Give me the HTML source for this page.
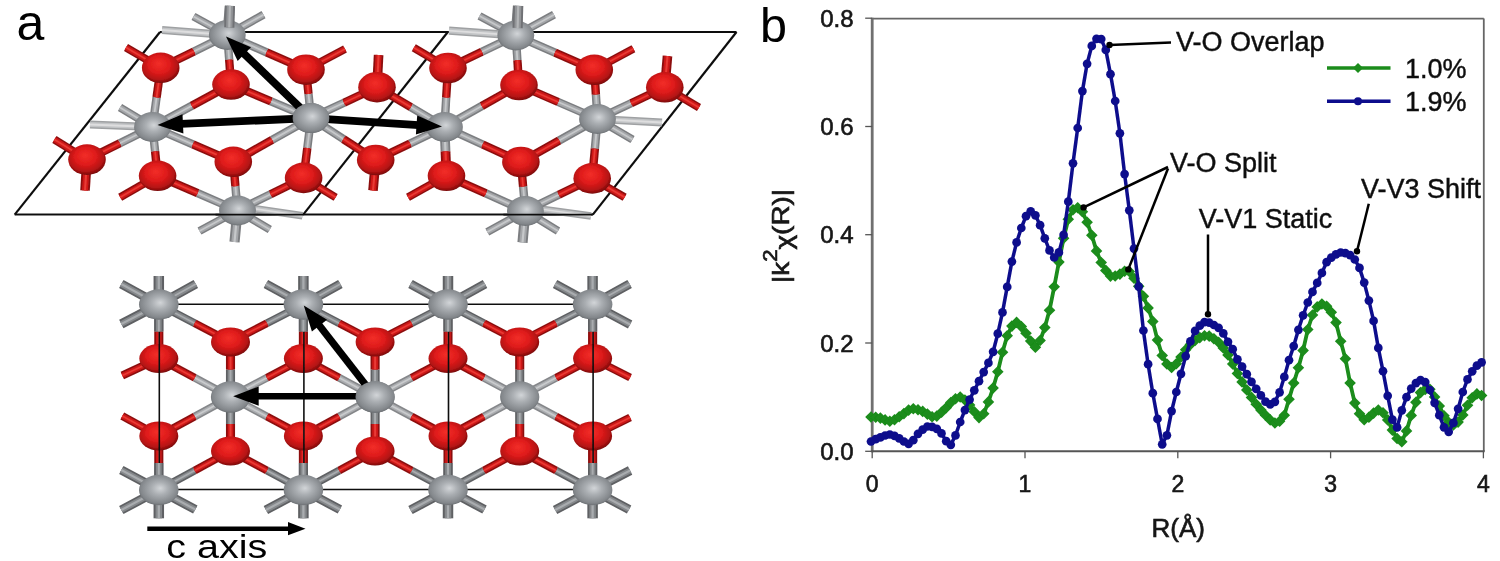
<!DOCTYPE html>
<html lang="en"><head><meta charset="utf-8"><title>Figure</title>
<style>html,body{margin:0;padding:0;background:#fff}svg{display:block}text{font-family:'Liberation Sans', Arial, Helvetica, sans-serif}</style>
</head><body>
<svg width="1500" height="561" viewBox="0 0 1500 561">
<defs>
<radialGradient id="gV" cx="0.5" cy="0.47" r="0.6" fx="0.54" fy="0.44"><stop offset="0" stop-color="#d2d5d8"/><stop offset="0.35" stop-color="#aaaeb2"/><stop offset="0.78" stop-color="#83878b"/><stop offset="1" stop-color="#565a5e"/></radialGradient>
<radialGradient id="gO" cx="0.47" cy="0.43" r="0.62" fx="0.45" fy="0.36"><stop offset="0" stop-color="#f22e28"/><stop offset="0.45" stop-color="#df1b1b"/><stop offset="0.76" stop-color="#b41313"/><stop offset="1" stop-color="#5e0808"/></radialGradient>
<filter id="soft" x="-2%" y="-2%" width="104%" height="104%"><feGaussianBlur stdDeviation="0.55"/></filter>
<filter id="soft2" x="-2%" y="-2%" width="104%" height="104%"><feGaussianBlur stdDeviation="0.4"/></filter>
</defs>
<rect width="1500" height="561" fill="#fff"/>
<g id="panelA" filter="url(#soft)">
<g id="topStruct">
<line x1="160.0" y1="32.0" x2="736.5" y2="32.0" stroke="#111" stroke-width="2.0"/>
<line x1="14.7" y1="214.6" x2="592.8" y2="214.6" stroke="#111" stroke-width="2.0"/>
<line x1="160.0" y1="32.0" x2="14.7" y2="214.6" stroke="#111" stroke-width="2.2"/>
<line x1="736.5" y1="32.0" x2="592.8" y2="214.6" stroke="#111" stroke-width="2.2"/>
<line x1="447.8" y1="32.0" x2="303.2" y2="214.6" stroke="#111" stroke-width="2.2"/>
<line x1="227.3" y1="35.0" x2="230.0" y2="6.0" stroke="#7c7e81" stroke-width="10.2"/>
<line x1="227.3" y1="35.0" x2="230.0" y2="6.0" stroke="#a4a6a9" stroke-width="6.3"/>
<line x1="227.3" y1="35.0" x2="230.0" y2="6.0" stroke="#c6c8ca" stroke-width="2.2"/>
<line x1="227.3" y1="35.0" x2="193.5" y2="16.5" stroke="#7c7e81" stroke-width="8.2"/>
<line x1="227.3" y1="35.0" x2="193.5" y2="16.5" stroke="#a4a6a9" stroke-width="5.1"/>
<line x1="227.3" y1="35.0" x2="193.5" y2="16.5" stroke="#c6c8ca" stroke-width="1.8"/>
<line x1="227.3" y1="35.0" x2="263.5" y2="14.7" stroke="#7c7e81" stroke-width="8.2"/>
<line x1="227.3" y1="35.0" x2="263.5" y2="14.7" stroke="#a4a6a9" stroke-width="5.1"/>
<line x1="227.3" y1="35.0" x2="263.5" y2="14.7" stroke="#c6c8ca" stroke-width="1.8"/>
<line x1="227.3" y1="35.0" x2="162.0" y2="30.0" stroke="#9fa1a3" stroke-width="8.2"/>
<line x1="227.3" y1="35.0" x2="162.0" y2="30.0" stroke="#c2c4c6" stroke-width="5.1"/>
<line x1="227.3" y1="35.0" x2="162.0" y2="30.0" stroke="#dededf" stroke-width="1.8"/>
<line x1="152.5" y1="127.0" x2="120.0" y2="107.5" stroke="#7c7e81" stroke-width="8.2"/>
<line x1="152.5" y1="127.0" x2="120.0" y2="107.5" stroke="#a4a6a9" stroke-width="5.1"/>
<line x1="152.5" y1="127.0" x2="120.0" y2="107.5" stroke="#c6c8ca" stroke-width="1.8"/>
<line x1="152.5" y1="127.0" x2="90.0" y2="124.5" stroke="#9fa1a3" stroke-width="8.2"/>
<line x1="152.5" y1="127.0" x2="90.0" y2="124.5" stroke="#c2c4c6" stroke-width="5.1"/>
<line x1="152.5" y1="127.0" x2="90.0" y2="124.5" stroke="#dededf" stroke-width="1.8"/>
<line x1="237.5" y1="210.5" x2="199.5" y2="231.0" stroke="#7c7e81" stroke-width="8.2"/>
<line x1="237.5" y1="210.5" x2="199.5" y2="231.0" stroke="#a4a6a9" stroke-width="5.1"/>
<line x1="237.5" y1="210.5" x2="199.5" y2="231.0" stroke="#c6c8ca" stroke-width="1.8"/>
<line x1="237.5" y1="210.5" x2="234.5" y2="242.0" stroke="#7c7e81" stroke-width="10.2"/>
<line x1="237.5" y1="210.5" x2="234.5" y2="242.0" stroke="#a4a6a9" stroke-width="6.3"/>
<line x1="237.5" y1="210.5" x2="234.5" y2="242.0" stroke="#c6c8ca" stroke-width="2.2"/>
<line x1="237.5" y1="210.5" x2="269.8" y2="229.5" stroke="#7c7e81" stroke-width="8.2"/>
<line x1="237.5" y1="210.5" x2="269.8" y2="229.5" stroke="#a4a6a9" stroke-width="5.1"/>
<line x1="237.5" y1="210.5" x2="269.8" y2="229.5" stroke="#c6c8ca" stroke-width="1.8"/>
<line x1="515.8" y1="35.5" x2="518.0" y2="6.0" stroke="#7c7e81" stroke-width="10.2"/>
<line x1="515.8" y1="35.5" x2="518.0" y2="6.0" stroke="#a4a6a9" stroke-width="6.3"/>
<line x1="515.8" y1="35.5" x2="518.0" y2="6.0" stroke="#c6c8ca" stroke-width="2.2"/>
<line x1="515.8" y1="35.5" x2="479.5" y2="16.0" stroke="#7c7e81" stroke-width="8.2"/>
<line x1="515.8" y1="35.5" x2="479.5" y2="16.0" stroke="#a4a6a9" stroke-width="5.1"/>
<line x1="515.8" y1="35.5" x2="479.5" y2="16.0" stroke="#c6c8ca" stroke-width="1.8"/>
<line x1="515.8" y1="35.5" x2="554.0" y2="14.7" stroke="#7c7e81" stroke-width="8.2"/>
<line x1="515.8" y1="35.5" x2="554.0" y2="14.7" stroke="#a4a6a9" stroke-width="5.1"/>
<line x1="515.8" y1="35.5" x2="554.0" y2="14.7" stroke="#c6c8ca" stroke-width="1.8"/>
<line x1="515.8" y1="35.5" x2="449.0" y2="30.6" stroke="#9fa1a3" stroke-width="8.2"/>
<line x1="515.8" y1="35.5" x2="449.0" y2="30.6" stroke="#c2c4c6" stroke-width="5.1"/>
<line x1="515.8" y1="35.5" x2="449.0" y2="30.6" stroke="#dededf" stroke-width="1.8"/>
<line x1="597.5" y1="119.0" x2="662.0" y2="122.5" stroke="#9fa1a3" stroke-width="8.2"/>
<line x1="597.5" y1="119.0" x2="662.0" y2="122.5" stroke="#c2c4c6" stroke-width="5.1"/>
<line x1="597.5" y1="119.0" x2="662.0" y2="122.5" stroke="#dededf" stroke-width="1.8"/>
<line x1="597.5" y1="119.0" x2="632.5" y2="139.5" stroke="#7c7e81" stroke-width="8.2"/>
<line x1="597.5" y1="119.0" x2="632.5" y2="139.5" stroke="#a4a6a9" stroke-width="5.1"/>
<line x1="597.5" y1="119.0" x2="632.5" y2="139.5" stroke="#c6c8ca" stroke-width="1.8"/>
<line x1="525.4" y1="211.0" x2="487.3" y2="232.0" stroke="#7c7e81" stroke-width="8.2"/>
<line x1="525.4" y1="211.0" x2="487.3" y2="232.0" stroke="#a4a6a9" stroke-width="5.1"/>
<line x1="525.4" y1="211.0" x2="487.3" y2="232.0" stroke="#c6c8ca" stroke-width="1.8"/>
<line x1="525.4" y1="211.0" x2="522.5" y2="242.5" stroke="#7c7e81" stroke-width="10.2"/>
<line x1="525.4" y1="211.0" x2="522.5" y2="242.5" stroke="#a4a6a9" stroke-width="6.3"/>
<line x1="525.4" y1="211.0" x2="522.5" y2="242.5" stroke="#c6c8ca" stroke-width="2.2"/>
<line x1="525.4" y1="211.0" x2="558.0" y2="231.0" stroke="#7c7e81" stroke-width="8.2"/>
<line x1="525.4" y1="211.0" x2="558.0" y2="231.0" stroke="#a4a6a9" stroke-width="5.1"/>
<line x1="525.4" y1="211.0" x2="558.0" y2="231.0" stroke="#c6c8ca" stroke-width="1.8"/>
<line x1="237.5" y1="206.2" x2="302.5" y2="215.8" stroke="#9fa1a3" stroke-width="7.6"/>
<line x1="237.5" y1="206.2" x2="302.5" y2="215.8" stroke="#c2c4c6" stroke-width="4.7"/>
<line x1="237.5" y1="206.2" x2="302.5" y2="215.8" stroke="#dededf" stroke-width="1.7"/>
<line x1="525.4" y1="207.0" x2="591.0" y2="216.0" stroke="#9fa1a3" stroke-width="7.6"/>
<line x1="525.4" y1="207.0" x2="591.0" y2="216.0" stroke="#c2c4c6" stroke-width="4.7"/>
<line x1="525.4" y1="207.0" x2="591.0" y2="216.0" stroke="#dededf" stroke-width="1.7"/>
<line x1="160.7" y1="67.8" x2="126.0" y2="47.5" stroke="#8c0f0f" stroke-width="8.0"/>
<line x1="160.7" y1="67.8" x2="126.0" y2="47.5" stroke="#cf1919" stroke-width="5.0"/>
<line x1="160.7" y1="67.8" x2="126.0" y2="47.5" stroke="#e93a34" stroke-width="1.8"/>
<line x1="306.0" y1="69.7" x2="345.0" y2="49.0" stroke="#8c0f0f" stroke-width="8.0"/>
<line x1="306.0" y1="69.7" x2="345.0" y2="49.0" stroke="#cf1919" stroke-width="5.0"/>
<line x1="306.0" y1="69.7" x2="345.0" y2="49.0" stroke="#e93a34" stroke-width="1.8"/>
<line x1="377.0" y1="87.2" x2="378.6" y2="55.0" stroke="#8c0f0f" stroke-width="9.6"/>
<line x1="377.0" y1="87.2" x2="378.6" y2="55.0" stroke="#cf1919" stroke-width="6.0"/>
<line x1="377.0" y1="87.2" x2="378.6" y2="55.0" stroke="#e93a34" stroke-width="2.1"/>
<line x1="87.0" y1="159.6" x2="54.4" y2="139.5" stroke="#8c0f0f" stroke-width="8.0"/>
<line x1="87.0" y1="159.6" x2="54.4" y2="139.5" stroke="#cf1919" stroke-width="5.0"/>
<line x1="87.0" y1="159.6" x2="54.4" y2="139.5" stroke="#e93a34" stroke-width="1.8"/>
<line x1="87.0" y1="159.6" x2="85.0" y2="190.5" stroke="#8c0f0f" stroke-width="9.6"/>
<line x1="87.0" y1="159.6" x2="85.0" y2="190.5" stroke="#cf1919" stroke-width="6.0"/>
<line x1="87.0" y1="159.6" x2="85.0" y2="190.5" stroke="#e93a34" stroke-width="2.1"/>
<line x1="157.6" y1="175.8" x2="120.2" y2="197.3" stroke="#8c0f0f" stroke-width="8.0"/>
<line x1="157.6" y1="175.8" x2="120.2" y2="197.3" stroke="#cf1919" stroke-width="5.0"/>
<line x1="157.6" y1="175.8" x2="120.2" y2="197.3" stroke="#e93a34" stroke-width="1.8"/>
<line x1="303.6" y1="177.9" x2="335.6" y2="197.3" stroke="#8c0f0f" stroke-width="8.0"/>
<line x1="303.6" y1="177.9" x2="335.6" y2="197.3" stroke="#cf1919" stroke-width="5.0"/>
<line x1="303.6" y1="177.9" x2="335.6" y2="197.3" stroke="#e93a34" stroke-width="1.8"/>
<line x1="375.7" y1="160.0" x2="373.0" y2="190.5" stroke="#8c0f0f" stroke-width="9.6"/>
<line x1="375.7" y1="160.0" x2="373.0" y2="190.5" stroke="#cf1919" stroke-width="6.0"/>
<line x1="375.7" y1="160.0" x2="373.0" y2="190.5" stroke="#e93a34" stroke-width="2.1"/>
<line x1="448.0" y1="68.0" x2="413.8" y2="47.8" stroke="#8c0f0f" stroke-width="8.0"/>
<line x1="448.0" y1="68.0" x2="413.8" y2="47.8" stroke="#cf1919" stroke-width="5.0"/>
<line x1="448.0" y1="68.0" x2="413.8" y2="47.8" stroke="#e93a34" stroke-width="1.8"/>
<line x1="594.3" y1="69.8" x2="633.4" y2="48.8" stroke="#8c0f0f" stroke-width="8.0"/>
<line x1="594.3" y1="69.8" x2="633.4" y2="48.8" stroke="#cf1919" stroke-width="5.0"/>
<line x1="594.3" y1="69.8" x2="633.4" y2="48.8" stroke="#e93a34" stroke-width="1.8"/>
<line x1="664.8" y1="87.3" x2="667.5" y2="56.0" stroke="#8c0f0f" stroke-width="9.6"/>
<line x1="664.8" y1="87.3" x2="667.5" y2="56.0" stroke="#cf1919" stroke-width="6.0"/>
<line x1="664.8" y1="87.3" x2="667.5" y2="56.0" stroke="#e93a34" stroke-width="2.1"/>
<line x1="664.8" y1="87.3" x2="699.0" y2="107.5" stroke="#8c0f0f" stroke-width="8.0"/>
<line x1="664.8" y1="87.3" x2="699.0" y2="107.5" stroke="#cf1919" stroke-width="5.0"/>
<line x1="664.8" y1="87.3" x2="699.0" y2="107.5" stroke="#e93a34" stroke-width="1.8"/>
<line x1="446.5" y1="175.8" x2="408.0" y2="197.3" stroke="#8c0f0f" stroke-width="8.0"/>
<line x1="446.5" y1="175.8" x2="408.0" y2="197.3" stroke="#cf1919" stroke-width="5.0"/>
<line x1="446.5" y1="175.8" x2="408.0" y2="197.3" stroke="#e93a34" stroke-width="1.8"/>
<line x1="592.2" y1="178.4" x2="624.6" y2="197.3" stroke="#8c0f0f" stroke-width="8.0"/>
<line x1="592.2" y1="178.4" x2="624.6" y2="197.3" stroke="#cf1919" stroke-width="5.0"/>
<line x1="592.2" y1="178.4" x2="624.6" y2="197.3" stroke="#e93a34" stroke-width="1.8"/>
<line x1="227.3" y1="35.0" x2="194.0" y2="51.4" stroke="#7c7e81" stroke-width="8.4"/>
<line x1="227.3" y1="35.0" x2="194.0" y2="51.4" stroke="#a4a6a9" stroke-width="5.2"/>
<line x1="227.3" y1="35.0" x2="194.0" y2="51.4" stroke="#c6c8ca" stroke-width="1.8"/>
<line x1="194.0" y1="51.4" x2="160.7" y2="67.8" stroke="#8c0f0f" stroke-width="8.4"/>
<line x1="194.0" y1="51.4" x2="160.7" y2="67.8" stroke="#cf1919" stroke-width="5.2"/>
<line x1="194.0" y1="51.4" x2="160.7" y2="67.8" stroke="#e93a34" stroke-width="1.8"/>
<line x1="227.3" y1="35.0" x2="229.2" y2="59.8" stroke="#7c7e81" stroke-width="8.4"/>
<line x1="227.3" y1="35.0" x2="229.2" y2="59.8" stroke="#a4a6a9" stroke-width="5.2"/>
<line x1="227.3" y1="35.0" x2="229.2" y2="59.8" stroke="#c6c8ca" stroke-width="1.8"/>
<line x1="229.2" y1="59.8" x2="231.0" y2="84.5" stroke="#8c0f0f" stroke-width="8.4"/>
<line x1="229.2" y1="59.8" x2="231.0" y2="84.5" stroke="#cf1919" stroke-width="5.2"/>
<line x1="229.2" y1="59.8" x2="231.0" y2="84.5" stroke="#e93a34" stroke-width="1.8"/>
<line x1="227.3" y1="35.0" x2="266.6" y2="52.4" stroke="#7c7e81" stroke-width="8.4"/>
<line x1="227.3" y1="35.0" x2="266.6" y2="52.4" stroke="#a4a6a9" stroke-width="5.2"/>
<line x1="227.3" y1="35.0" x2="266.6" y2="52.4" stroke="#c6c8ca" stroke-width="1.8"/>
<line x1="266.6" y1="52.4" x2="306.0" y2="69.7" stroke="#8c0f0f" stroke-width="8.4"/>
<line x1="266.6" y1="52.4" x2="306.0" y2="69.7" stroke="#cf1919" stroke-width="5.2"/>
<line x1="266.6" y1="52.4" x2="306.0" y2="69.7" stroke="#e93a34" stroke-width="1.8"/>
<line x1="152.5" y1="127.0" x2="156.6" y2="97.4" stroke="#7c7e81" stroke-width="8.4"/>
<line x1="152.5" y1="127.0" x2="156.6" y2="97.4" stroke="#a4a6a9" stroke-width="5.2"/>
<line x1="152.5" y1="127.0" x2="156.6" y2="97.4" stroke="#c6c8ca" stroke-width="1.8"/>
<line x1="156.6" y1="97.4" x2="160.7" y2="67.8" stroke="#8c0f0f" stroke-width="8.4"/>
<line x1="156.6" y1="97.4" x2="160.7" y2="67.8" stroke="#cf1919" stroke-width="5.2"/>
<line x1="156.6" y1="97.4" x2="160.7" y2="67.8" stroke="#e93a34" stroke-width="1.8"/>
<line x1="152.5" y1="127.0" x2="191.8" y2="105.8" stroke="#7c7e81" stroke-width="8.4"/>
<line x1="152.5" y1="127.0" x2="191.8" y2="105.8" stroke="#a4a6a9" stroke-width="5.2"/>
<line x1="152.5" y1="127.0" x2="191.8" y2="105.8" stroke="#c6c8ca" stroke-width="1.8"/>
<line x1="191.8" y1="105.8" x2="231.0" y2="84.5" stroke="#8c0f0f" stroke-width="8.4"/>
<line x1="191.8" y1="105.8" x2="231.0" y2="84.5" stroke="#cf1919" stroke-width="5.2"/>
<line x1="191.8" y1="105.8" x2="231.0" y2="84.5" stroke="#e93a34" stroke-width="1.8"/>
<line x1="152.5" y1="127.0" x2="119.8" y2="143.3" stroke="#7c7e81" stroke-width="8.4"/>
<line x1="152.5" y1="127.0" x2="119.8" y2="143.3" stroke="#a4a6a9" stroke-width="5.2"/>
<line x1="152.5" y1="127.0" x2="119.8" y2="143.3" stroke="#c6c8ca" stroke-width="1.8"/>
<line x1="119.8" y1="143.3" x2="87.0" y2="159.6" stroke="#8c0f0f" stroke-width="8.4"/>
<line x1="119.8" y1="143.3" x2="87.0" y2="159.6" stroke="#cf1919" stroke-width="5.2"/>
<line x1="119.8" y1="143.3" x2="87.0" y2="159.6" stroke="#e93a34" stroke-width="1.8"/>
<line x1="152.5" y1="127.0" x2="155.1" y2="151.4" stroke="#7c7e81" stroke-width="8.4"/>
<line x1="152.5" y1="127.0" x2="155.1" y2="151.4" stroke="#a4a6a9" stroke-width="5.2"/>
<line x1="152.5" y1="127.0" x2="155.1" y2="151.4" stroke="#c6c8ca" stroke-width="1.8"/>
<line x1="155.1" y1="151.4" x2="157.6" y2="175.8" stroke="#8c0f0f" stroke-width="8.4"/>
<line x1="155.1" y1="151.4" x2="157.6" y2="175.8" stroke="#cf1919" stroke-width="5.2"/>
<line x1="155.1" y1="151.4" x2="157.6" y2="175.8" stroke="#e93a34" stroke-width="1.8"/>
<line x1="152.5" y1="127.0" x2="192.9" y2="144.4" stroke="#7c7e81" stroke-width="8.4"/>
<line x1="152.5" y1="127.0" x2="192.9" y2="144.4" stroke="#a4a6a9" stroke-width="5.2"/>
<line x1="152.5" y1="127.0" x2="192.9" y2="144.4" stroke="#c6c8ca" stroke-width="1.8"/>
<line x1="192.9" y1="144.4" x2="233.3" y2="161.8" stroke="#8c0f0f" stroke-width="8.4"/>
<line x1="192.9" y1="144.4" x2="233.3" y2="161.8" stroke="#cf1919" stroke-width="5.2"/>
<line x1="192.9" y1="144.4" x2="233.3" y2="161.8" stroke="#e93a34" stroke-width="1.8"/>
<line x1="311.0" y1="118.1" x2="271.0" y2="101.3" stroke="#7c7e81" stroke-width="8.4"/>
<line x1="311.0" y1="118.1" x2="271.0" y2="101.3" stroke="#a4a6a9" stroke-width="5.2"/>
<line x1="311.0" y1="118.1" x2="271.0" y2="101.3" stroke="#c6c8ca" stroke-width="1.8"/>
<line x1="271.0" y1="101.3" x2="231.0" y2="84.5" stroke="#8c0f0f" stroke-width="8.4"/>
<line x1="271.0" y1="101.3" x2="231.0" y2="84.5" stroke="#cf1919" stroke-width="5.2"/>
<line x1="271.0" y1="101.3" x2="231.0" y2="84.5" stroke="#e93a34" stroke-width="1.8"/>
<line x1="311.0" y1="118.1" x2="308.5" y2="93.9" stroke="#7c7e81" stroke-width="8.4"/>
<line x1="311.0" y1="118.1" x2="308.5" y2="93.9" stroke="#a4a6a9" stroke-width="5.2"/>
<line x1="311.0" y1="118.1" x2="308.5" y2="93.9" stroke="#c6c8ca" stroke-width="1.8"/>
<line x1="308.5" y1="93.9" x2="306.0" y2="69.7" stroke="#8c0f0f" stroke-width="8.4"/>
<line x1="308.5" y1="93.9" x2="306.0" y2="69.7" stroke="#cf1919" stroke-width="5.2"/>
<line x1="308.5" y1="93.9" x2="306.0" y2="69.7" stroke="#e93a34" stroke-width="1.8"/>
<line x1="311.0" y1="118.1" x2="344.0" y2="102.7" stroke="#7c7e81" stroke-width="8.4"/>
<line x1="311.0" y1="118.1" x2="344.0" y2="102.7" stroke="#a4a6a9" stroke-width="5.2"/>
<line x1="311.0" y1="118.1" x2="344.0" y2="102.7" stroke="#c6c8ca" stroke-width="1.8"/>
<line x1="344.0" y1="102.7" x2="377.0" y2="87.2" stroke="#8c0f0f" stroke-width="8.4"/>
<line x1="344.0" y1="102.7" x2="377.0" y2="87.2" stroke="#cf1919" stroke-width="5.2"/>
<line x1="344.0" y1="102.7" x2="377.0" y2="87.2" stroke="#e93a34" stroke-width="1.8"/>
<line x1="311.0" y1="118.1" x2="272.1" y2="139.9" stroke="#7c7e81" stroke-width="8.4"/>
<line x1="311.0" y1="118.1" x2="272.1" y2="139.9" stroke="#a4a6a9" stroke-width="5.2"/>
<line x1="311.0" y1="118.1" x2="272.1" y2="139.9" stroke="#c6c8ca" stroke-width="1.8"/>
<line x1="272.1" y1="139.9" x2="233.3" y2="161.8" stroke="#8c0f0f" stroke-width="8.4"/>
<line x1="272.1" y1="139.9" x2="233.3" y2="161.8" stroke="#cf1919" stroke-width="5.2"/>
<line x1="272.1" y1="139.9" x2="233.3" y2="161.8" stroke="#e93a34" stroke-width="1.8"/>
<line x1="311.0" y1="118.1" x2="307.3" y2="148.0" stroke="#7c7e81" stroke-width="8.4"/>
<line x1="311.0" y1="118.1" x2="307.3" y2="148.0" stroke="#a4a6a9" stroke-width="5.2"/>
<line x1="311.0" y1="118.1" x2="307.3" y2="148.0" stroke="#c6c8ca" stroke-width="1.8"/>
<line x1="307.3" y1="148.0" x2="303.6" y2="177.9" stroke="#8c0f0f" stroke-width="8.4"/>
<line x1="307.3" y1="148.0" x2="303.6" y2="177.9" stroke="#cf1919" stroke-width="5.2"/>
<line x1="307.3" y1="148.0" x2="303.6" y2="177.9" stroke="#e93a34" stroke-width="1.8"/>
<line x1="311.0" y1="118.1" x2="343.4" y2="139.1" stroke="#7c7e81" stroke-width="8.4"/>
<line x1="311.0" y1="118.1" x2="343.4" y2="139.1" stroke="#a4a6a9" stroke-width="5.2"/>
<line x1="311.0" y1="118.1" x2="343.4" y2="139.1" stroke="#c6c8ca" stroke-width="1.8"/>
<line x1="343.4" y1="139.1" x2="375.7" y2="160.0" stroke="#8c0f0f" stroke-width="8.4"/>
<line x1="343.4" y1="139.1" x2="375.7" y2="160.0" stroke="#cf1919" stroke-width="5.2"/>
<line x1="343.4" y1="139.1" x2="375.7" y2="160.0" stroke="#e93a34" stroke-width="1.8"/>
<line x1="237.5" y1="210.5" x2="197.6" y2="193.2" stroke="#7c7e81" stroke-width="8.4"/>
<line x1="237.5" y1="210.5" x2="197.6" y2="193.2" stroke="#a4a6a9" stroke-width="5.2"/>
<line x1="237.5" y1="210.5" x2="197.6" y2="193.2" stroke="#c6c8ca" stroke-width="1.8"/>
<line x1="197.6" y1="193.2" x2="157.6" y2="175.8" stroke="#8c0f0f" stroke-width="8.4"/>
<line x1="197.6" y1="193.2" x2="157.6" y2="175.8" stroke="#cf1919" stroke-width="5.2"/>
<line x1="197.6" y1="193.2" x2="157.6" y2="175.8" stroke="#e93a34" stroke-width="1.8"/>
<line x1="237.5" y1="210.5" x2="235.4" y2="186.2" stroke="#7c7e81" stroke-width="8.4"/>
<line x1="237.5" y1="210.5" x2="235.4" y2="186.2" stroke="#a4a6a9" stroke-width="5.2"/>
<line x1="237.5" y1="210.5" x2="235.4" y2="186.2" stroke="#c6c8ca" stroke-width="1.8"/>
<line x1="235.4" y1="186.2" x2="233.3" y2="161.8" stroke="#8c0f0f" stroke-width="8.4"/>
<line x1="235.4" y1="186.2" x2="233.3" y2="161.8" stroke="#cf1919" stroke-width="5.2"/>
<line x1="235.4" y1="186.2" x2="233.3" y2="161.8" stroke="#e93a34" stroke-width="1.8"/>
<line x1="237.5" y1="210.5" x2="270.6" y2="194.2" stroke="#7c7e81" stroke-width="8.4"/>
<line x1="237.5" y1="210.5" x2="270.6" y2="194.2" stroke="#a4a6a9" stroke-width="5.2"/>
<line x1="237.5" y1="210.5" x2="270.6" y2="194.2" stroke="#c6c8ca" stroke-width="1.8"/>
<line x1="270.6" y1="194.2" x2="303.6" y2="177.9" stroke="#8c0f0f" stroke-width="8.4"/>
<line x1="270.6" y1="194.2" x2="303.6" y2="177.9" stroke="#cf1919" stroke-width="5.2"/>
<line x1="270.6" y1="194.2" x2="303.6" y2="177.9" stroke="#e93a34" stroke-width="1.8"/>
<line x1="515.8" y1="35.5" x2="481.9" y2="51.8" stroke="#7c7e81" stroke-width="8.4"/>
<line x1="515.8" y1="35.5" x2="481.9" y2="51.8" stroke="#a4a6a9" stroke-width="5.2"/>
<line x1="515.8" y1="35.5" x2="481.9" y2="51.8" stroke="#c6c8ca" stroke-width="1.8"/>
<line x1="481.9" y1="51.8" x2="448.0" y2="68.0" stroke="#8c0f0f" stroke-width="8.4"/>
<line x1="481.9" y1="51.8" x2="448.0" y2="68.0" stroke="#cf1919" stroke-width="5.2"/>
<line x1="481.9" y1="51.8" x2="448.0" y2="68.0" stroke="#e93a34" stroke-width="1.8"/>
<line x1="515.8" y1="35.5" x2="517.4" y2="60.2" stroke="#7c7e81" stroke-width="8.4"/>
<line x1="515.8" y1="35.5" x2="517.4" y2="60.2" stroke="#a4a6a9" stroke-width="5.2"/>
<line x1="515.8" y1="35.5" x2="517.4" y2="60.2" stroke="#c6c8ca" stroke-width="1.8"/>
<line x1="517.4" y1="60.2" x2="519.0" y2="85.0" stroke="#8c0f0f" stroke-width="8.4"/>
<line x1="517.4" y1="60.2" x2="519.0" y2="85.0" stroke="#cf1919" stroke-width="5.2"/>
<line x1="517.4" y1="60.2" x2="519.0" y2="85.0" stroke="#e93a34" stroke-width="1.8"/>
<line x1="515.8" y1="35.5" x2="555.0" y2="52.6" stroke="#7c7e81" stroke-width="8.4"/>
<line x1="515.8" y1="35.5" x2="555.0" y2="52.6" stroke="#a4a6a9" stroke-width="5.2"/>
<line x1="515.8" y1="35.5" x2="555.0" y2="52.6" stroke="#c6c8ca" stroke-width="1.8"/>
<line x1="555.0" y1="52.6" x2="594.3" y2="69.8" stroke="#8c0f0f" stroke-width="8.4"/>
<line x1="555.0" y1="52.6" x2="594.3" y2="69.8" stroke="#cf1919" stroke-width="5.2"/>
<line x1="555.0" y1="52.6" x2="594.3" y2="69.8" stroke="#e93a34" stroke-width="1.8"/>
<line x1="444.5" y1="127.0" x2="446.2" y2="97.5" stroke="#7c7e81" stroke-width="8.4"/>
<line x1="444.5" y1="127.0" x2="446.2" y2="97.5" stroke="#a4a6a9" stroke-width="5.2"/>
<line x1="444.5" y1="127.0" x2="446.2" y2="97.5" stroke="#c6c8ca" stroke-width="1.8"/>
<line x1="446.2" y1="97.5" x2="448.0" y2="68.0" stroke="#8c0f0f" stroke-width="8.4"/>
<line x1="446.2" y1="97.5" x2="448.0" y2="68.0" stroke="#cf1919" stroke-width="5.2"/>
<line x1="446.2" y1="97.5" x2="448.0" y2="68.0" stroke="#e93a34" stroke-width="1.8"/>
<line x1="444.5" y1="127.0" x2="481.8" y2="106.0" stroke="#7c7e81" stroke-width="8.4"/>
<line x1="444.5" y1="127.0" x2="481.8" y2="106.0" stroke="#a4a6a9" stroke-width="5.2"/>
<line x1="444.5" y1="127.0" x2="481.8" y2="106.0" stroke="#c6c8ca" stroke-width="1.8"/>
<line x1="481.8" y1="106.0" x2="519.0" y2="85.0" stroke="#8c0f0f" stroke-width="8.4"/>
<line x1="481.8" y1="106.0" x2="519.0" y2="85.0" stroke="#cf1919" stroke-width="5.2"/>
<line x1="481.8" y1="106.0" x2="519.0" y2="85.0" stroke="#e93a34" stroke-width="1.8"/>
<line x1="444.5" y1="127.0" x2="410.8" y2="107.1" stroke="#7c7e81" stroke-width="8.4"/>
<line x1="444.5" y1="127.0" x2="410.8" y2="107.1" stroke="#a4a6a9" stroke-width="5.2"/>
<line x1="444.5" y1="127.0" x2="410.8" y2="107.1" stroke="#c6c8ca" stroke-width="1.8"/>
<line x1="410.8" y1="107.1" x2="377.0" y2="87.2" stroke="#8c0f0f" stroke-width="8.4"/>
<line x1="410.8" y1="107.1" x2="377.0" y2="87.2" stroke="#cf1919" stroke-width="5.2"/>
<line x1="410.8" y1="107.1" x2="377.0" y2="87.2" stroke="#e93a34" stroke-width="1.8"/>
<line x1="444.5" y1="127.0" x2="410.1" y2="143.5" stroke="#7c7e81" stroke-width="8.4"/>
<line x1="444.5" y1="127.0" x2="410.1" y2="143.5" stroke="#a4a6a9" stroke-width="5.2"/>
<line x1="444.5" y1="127.0" x2="410.1" y2="143.5" stroke="#c6c8ca" stroke-width="1.8"/>
<line x1="410.1" y1="143.5" x2="375.7" y2="160.0" stroke="#8c0f0f" stroke-width="8.4"/>
<line x1="410.1" y1="143.5" x2="375.7" y2="160.0" stroke="#cf1919" stroke-width="5.2"/>
<line x1="410.1" y1="143.5" x2="375.7" y2="160.0" stroke="#e93a34" stroke-width="1.8"/>
<line x1="444.5" y1="127.0" x2="445.5" y2="151.4" stroke="#7c7e81" stroke-width="9.8"/>
<line x1="444.5" y1="127.0" x2="445.5" y2="151.4" stroke="#a4a6a9" stroke-width="6.1"/>
<line x1="444.5" y1="127.0" x2="445.5" y2="151.4" stroke="#c6c8ca" stroke-width="2.2"/>
<line x1="445.5" y1="151.4" x2="446.5" y2="175.8" stroke="#8c0f0f" stroke-width="9.8"/>
<line x1="445.5" y1="151.4" x2="446.5" y2="175.8" stroke="#cf1919" stroke-width="6.1"/>
<line x1="445.5" y1="151.4" x2="446.5" y2="175.8" stroke="#e93a34" stroke-width="2.2"/>
<line x1="444.5" y1="127.0" x2="482.7" y2="144.5" stroke="#7c7e81" stroke-width="8.4"/>
<line x1="444.5" y1="127.0" x2="482.7" y2="144.5" stroke="#a4a6a9" stroke-width="5.2"/>
<line x1="444.5" y1="127.0" x2="482.7" y2="144.5" stroke="#c6c8ca" stroke-width="1.8"/>
<line x1="482.7" y1="144.5" x2="520.9" y2="162.0" stroke="#8c0f0f" stroke-width="8.4"/>
<line x1="482.7" y1="144.5" x2="520.9" y2="162.0" stroke="#cf1919" stroke-width="5.2"/>
<line x1="482.7" y1="144.5" x2="520.9" y2="162.0" stroke="#e93a34" stroke-width="1.8"/>
<line x1="597.5" y1="119.0" x2="558.2" y2="102.0" stroke="#7c7e81" stroke-width="8.4"/>
<line x1="597.5" y1="119.0" x2="558.2" y2="102.0" stroke="#a4a6a9" stroke-width="5.2"/>
<line x1="597.5" y1="119.0" x2="558.2" y2="102.0" stroke="#c6c8ca" stroke-width="1.8"/>
<line x1="558.2" y1="102.0" x2="519.0" y2="85.0" stroke="#8c0f0f" stroke-width="8.4"/>
<line x1="558.2" y1="102.0" x2="519.0" y2="85.0" stroke="#cf1919" stroke-width="5.2"/>
<line x1="558.2" y1="102.0" x2="519.0" y2="85.0" stroke="#e93a34" stroke-width="1.8"/>
<line x1="597.5" y1="119.0" x2="595.9" y2="94.4" stroke="#7c7e81" stroke-width="8.4"/>
<line x1="597.5" y1="119.0" x2="595.9" y2="94.4" stroke="#a4a6a9" stroke-width="5.2"/>
<line x1="597.5" y1="119.0" x2="595.9" y2="94.4" stroke="#c6c8ca" stroke-width="1.8"/>
<line x1="595.9" y1="94.4" x2="594.3" y2="69.8" stroke="#8c0f0f" stroke-width="8.4"/>
<line x1="595.9" y1="94.4" x2="594.3" y2="69.8" stroke="#cf1919" stroke-width="5.2"/>
<line x1="595.9" y1="94.4" x2="594.3" y2="69.8" stroke="#e93a34" stroke-width="1.8"/>
<line x1="597.5" y1="119.0" x2="631.1" y2="103.2" stroke="#7c7e81" stroke-width="8.4"/>
<line x1="597.5" y1="119.0" x2="631.1" y2="103.2" stroke="#a4a6a9" stroke-width="5.2"/>
<line x1="597.5" y1="119.0" x2="631.1" y2="103.2" stroke="#c6c8ca" stroke-width="1.8"/>
<line x1="631.1" y1="103.2" x2="664.8" y2="87.3" stroke="#8c0f0f" stroke-width="8.4"/>
<line x1="631.1" y1="103.2" x2="664.8" y2="87.3" stroke="#cf1919" stroke-width="5.2"/>
<line x1="631.1" y1="103.2" x2="664.8" y2="87.3" stroke="#e93a34" stroke-width="1.8"/>
<line x1="597.5" y1="119.0" x2="559.2" y2="140.5" stroke="#7c7e81" stroke-width="8.4"/>
<line x1="597.5" y1="119.0" x2="559.2" y2="140.5" stroke="#a4a6a9" stroke-width="5.2"/>
<line x1="597.5" y1="119.0" x2="559.2" y2="140.5" stroke="#c6c8ca" stroke-width="1.8"/>
<line x1="559.2" y1="140.5" x2="520.9" y2="162.0" stroke="#8c0f0f" stroke-width="8.4"/>
<line x1="559.2" y1="140.5" x2="520.9" y2="162.0" stroke="#cf1919" stroke-width="5.2"/>
<line x1="559.2" y1="140.5" x2="520.9" y2="162.0" stroke="#e93a34" stroke-width="1.8"/>
<line x1="597.5" y1="119.0" x2="594.9" y2="148.7" stroke="#7c7e81" stroke-width="8.4"/>
<line x1="597.5" y1="119.0" x2="594.9" y2="148.7" stroke="#a4a6a9" stroke-width="5.2"/>
<line x1="597.5" y1="119.0" x2="594.9" y2="148.7" stroke="#c6c8ca" stroke-width="1.8"/>
<line x1="594.9" y1="148.7" x2="592.2" y2="178.4" stroke="#8c0f0f" stroke-width="8.4"/>
<line x1="594.9" y1="148.7" x2="592.2" y2="178.4" stroke="#cf1919" stroke-width="5.2"/>
<line x1="594.9" y1="148.7" x2="592.2" y2="178.4" stroke="#e93a34" stroke-width="1.8"/>
<line x1="525.4" y1="211.0" x2="485.9" y2="193.4" stroke="#7c7e81" stroke-width="8.4"/>
<line x1="525.4" y1="211.0" x2="485.9" y2="193.4" stroke="#a4a6a9" stroke-width="5.2"/>
<line x1="525.4" y1="211.0" x2="485.9" y2="193.4" stroke="#c6c8ca" stroke-width="1.8"/>
<line x1="485.9" y1="193.4" x2="446.5" y2="175.8" stroke="#8c0f0f" stroke-width="8.4"/>
<line x1="485.9" y1="193.4" x2="446.5" y2="175.8" stroke="#cf1919" stroke-width="5.2"/>
<line x1="485.9" y1="193.4" x2="446.5" y2="175.8" stroke="#e93a34" stroke-width="1.8"/>
<line x1="525.4" y1="211.0" x2="523.1" y2="186.5" stroke="#7c7e81" stroke-width="8.4"/>
<line x1="525.4" y1="211.0" x2="523.1" y2="186.5" stroke="#a4a6a9" stroke-width="5.2"/>
<line x1="525.4" y1="211.0" x2="523.1" y2="186.5" stroke="#c6c8ca" stroke-width="1.8"/>
<line x1="523.1" y1="186.5" x2="520.9" y2="162.0" stroke="#8c0f0f" stroke-width="8.4"/>
<line x1="523.1" y1="186.5" x2="520.9" y2="162.0" stroke="#cf1919" stroke-width="5.2"/>
<line x1="523.1" y1="186.5" x2="520.9" y2="162.0" stroke="#e93a34" stroke-width="1.8"/>
<line x1="525.4" y1="211.0" x2="558.8" y2="194.7" stroke="#7c7e81" stroke-width="8.4"/>
<line x1="525.4" y1="211.0" x2="558.8" y2="194.7" stroke="#a4a6a9" stroke-width="5.2"/>
<line x1="525.4" y1="211.0" x2="558.8" y2="194.7" stroke="#c6c8ca" stroke-width="1.8"/>
<line x1="558.8" y1="194.7" x2="592.2" y2="178.4" stroke="#8c0f0f" stroke-width="8.4"/>
<line x1="558.8" y1="194.7" x2="592.2" y2="178.4" stroke="#cf1919" stroke-width="5.2"/>
<line x1="558.8" y1="194.7" x2="592.2" y2="178.4" stroke="#e93a34" stroke-width="1.8"/>
<ellipse cx="160.7" cy="67.8" rx="18.8" ry="15.3" fill="url(#gO)"/>
<ellipse cx="231.0" cy="84.5" rx="18.8" ry="15.3" fill="url(#gO)"/>
<ellipse cx="306.0" cy="69.7" rx="18.8" ry="15.3" fill="url(#gO)"/>
<ellipse cx="377.0" cy="87.2" rx="18.8" ry="15.3" fill="url(#gO)"/>
<ellipse cx="87.0" cy="159.6" rx="18.8" ry="15.3" fill="url(#gO)"/>
<ellipse cx="157.6" cy="175.8" rx="18.8" ry="15.3" fill="url(#gO)"/>
<ellipse cx="233.3" cy="161.8" rx="18.8" ry="15.3" fill="url(#gO)"/>
<ellipse cx="303.6" cy="177.9" rx="18.8" ry="15.3" fill="url(#gO)"/>
<ellipse cx="375.7" cy="160.0" rx="18.8" ry="15.3" fill="url(#gO)"/>
<ellipse cx="448.0" cy="68.0" rx="18.8" ry="15.3" fill="url(#gO)"/>
<ellipse cx="519.0" cy="85.0" rx="18.8" ry="15.3" fill="url(#gO)"/>
<ellipse cx="594.3" cy="69.8" rx="18.8" ry="15.3" fill="url(#gO)"/>
<ellipse cx="664.8" cy="87.3" rx="18.8" ry="15.3" fill="url(#gO)"/>
<ellipse cx="446.5" cy="175.8" rx="18.8" ry="15.3" fill="url(#gO)"/>
<ellipse cx="520.9" cy="162.0" rx="18.8" ry="15.3" fill="url(#gO)"/>
<ellipse cx="592.2" cy="178.4" rx="18.8" ry="15.3" fill="url(#gO)"/>
<ellipse cx="227.3" cy="35.0" rx="18.4" ry="15.0" fill="url(#gV)"/>
<ellipse cx="152.5" cy="127.0" rx="18.4" ry="15.0" fill="url(#gV)"/>
<ellipse cx="311.0" cy="118.1" rx="18.4" ry="15.0" fill="url(#gV)"/>
<ellipse cx="237.5" cy="210.5" rx="18.4" ry="15.0" fill="url(#gV)"/>
<ellipse cx="515.8" cy="35.5" rx="18.4" ry="15.0" fill="url(#gV)"/>
<ellipse cx="444.5" cy="127.0" rx="18.4" ry="15.0" fill="url(#gV)"/>
<ellipse cx="597.5" cy="119.0" rx="18.4" ry="15.0" fill="url(#gV)"/>
<ellipse cx="525.4" cy="211.0" rx="18.4" ry="15.0" fill="url(#gV)"/>
<line x1="215.5" y1="214.6" x2="303.5" y2="214.6" stroke="#111" stroke-width="1.7"/>
<line x1="503.4" y1="214.6" x2="592.8" y2="214.6" stroke="#111" stroke-width="1.7"/>
<line x1="229.9" y1="5.8" x2="229.3" y2="27.5" stroke="#6f7174" stroke-width="10.2"/>
<line x1="229.9" y1="5.8" x2="229.3" y2="27.5" stroke="#939598" stroke-width="6.3"/>
<line x1="229.9" y1="5.8" x2="229.3" y2="27.5" stroke="#b3b5b7" stroke-width="2.2"/>
<line x1="518.2" y1="5.8" x2="517.6" y2="28.0" stroke="#6f7174" stroke-width="10.2"/>
<line x1="518.2" y1="5.8" x2="517.6" y2="28.0" stroke="#939598" stroke-width="6.3"/>
<line x1="518.2" y1="5.8" x2="517.6" y2="28.0" stroke="#b3b5b7" stroke-width="2.2"/>
<line x1="311.0" y1="118.1" x2="243.0" y2="52.8" stroke="#000" stroke-width="7.8"/>
<polygon points="226.0,36.5 251.0,47.2 237.7,61.1" fill="#000"/>
<line x1="311.0" y1="118.1" x2="181.0" y2="123.9" stroke="#000" stroke-width="7.8"/>
<polygon points="157.5,125.0 182.5,114.3 183.4,133.4" fill="#000"/>
<line x1="311.0" y1="118.1" x2="418.5" y2="125.1" stroke="#000" stroke-width="7.8"/>
<polygon points="442.0,126.6 415.9,134.5 417.2,115.4" fill="#000"/>
<ellipse cx="311.0" cy="118.1" rx="18.4" ry="15.0" fill="url(#gV)"/>
</g>
<g id="botStruct">
<line x1="158.8" y1="304.5" x2="158.8" y2="276.0" stroke="#5e6063" stroke-width="10.5"/>
<line x1="158.8" y1="304.5" x2="158.8" y2="276.0" stroke="#85888b" stroke-width="6.5"/>
<line x1="158.8" y1="304.5" x2="158.8" y2="276.0" stroke="#a9acaf" stroke-width="2.3"/>
<line x1="158.8" y1="304.5" x2="121.3" y2="284.0" stroke="#5e6063" stroke-width="9.3"/>
<line x1="158.8" y1="304.5" x2="121.3" y2="284.0" stroke="#85888b" stroke-width="5.8"/>
<line x1="158.8" y1="304.5" x2="121.3" y2="284.0" stroke="#a9acaf" stroke-width="2.0"/>
<line x1="158.8" y1="304.5" x2="195.8" y2="284.0" stroke="#5e6063" stroke-width="9.3"/>
<line x1="158.8" y1="304.5" x2="195.8" y2="284.0" stroke="#85888b" stroke-width="5.8"/>
<line x1="158.8" y1="304.5" x2="195.8" y2="284.0" stroke="#a9acaf" stroke-width="2.0"/>
<line x1="158.8" y1="304.5" x2="121.3" y2="324.0" stroke="#5e6063" stroke-width="9.3"/>
<line x1="158.8" y1="304.5" x2="121.3" y2="324.0" stroke="#85888b" stroke-width="5.8"/>
<line x1="158.8" y1="304.5" x2="121.3" y2="324.0" stroke="#a9acaf" stroke-width="2.0"/>
<line x1="158.8" y1="490.0" x2="158.8" y2="518.3" stroke="#5e6063" stroke-width="10.5"/>
<line x1="158.8" y1="490.0" x2="158.8" y2="518.3" stroke="#85888b" stroke-width="6.5"/>
<line x1="158.8" y1="490.0" x2="158.8" y2="518.3" stroke="#a9acaf" stroke-width="2.3"/>
<line x1="158.8" y1="490.0" x2="121.3" y2="510.0" stroke="#5e6063" stroke-width="9.3"/>
<line x1="158.8" y1="490.0" x2="121.3" y2="510.0" stroke="#85888b" stroke-width="5.8"/>
<line x1="158.8" y1="490.0" x2="121.3" y2="510.0" stroke="#a9acaf" stroke-width="2.0"/>
<line x1="158.8" y1="490.0" x2="195.3" y2="509.5" stroke="#5e6063" stroke-width="9.3"/>
<line x1="158.8" y1="490.0" x2="195.3" y2="509.5" stroke="#85888b" stroke-width="5.8"/>
<line x1="158.8" y1="490.0" x2="195.3" y2="509.5" stroke="#a9acaf" stroke-width="2.0"/>
<line x1="158.8" y1="490.0" x2="121.3" y2="470.0" stroke="#5e6063" stroke-width="9.3"/>
<line x1="158.8" y1="490.0" x2="121.3" y2="470.0" stroke="#85888b" stroke-width="5.8"/>
<line x1="158.8" y1="490.0" x2="121.3" y2="470.0" stroke="#a9acaf" stroke-width="2.0"/>
<line x1="303.4" y1="304.5" x2="303.4" y2="276.0" stroke="#5e6063" stroke-width="10.5"/>
<line x1="303.4" y1="304.5" x2="303.4" y2="276.0" stroke="#85888b" stroke-width="6.5"/>
<line x1="303.4" y1="304.5" x2="303.4" y2="276.0" stroke="#a9acaf" stroke-width="2.3"/>
<line x1="303.4" y1="304.5" x2="265.9" y2="284.0" stroke="#5e6063" stroke-width="9.3"/>
<line x1="303.4" y1="304.5" x2="265.9" y2="284.0" stroke="#85888b" stroke-width="5.8"/>
<line x1="303.4" y1="304.5" x2="265.9" y2="284.0" stroke="#a9acaf" stroke-width="2.0"/>
<line x1="303.4" y1="304.5" x2="340.4" y2="284.0" stroke="#5e6063" stroke-width="9.3"/>
<line x1="303.4" y1="304.5" x2="340.4" y2="284.0" stroke="#85888b" stroke-width="5.8"/>
<line x1="303.4" y1="304.5" x2="340.4" y2="284.0" stroke="#a9acaf" stroke-width="2.0"/>
<line x1="303.4" y1="490.0" x2="303.4" y2="518.3" stroke="#5e6063" stroke-width="10.5"/>
<line x1="303.4" y1="490.0" x2="303.4" y2="518.3" stroke="#85888b" stroke-width="6.5"/>
<line x1="303.4" y1="490.0" x2="303.4" y2="518.3" stroke="#a9acaf" stroke-width="2.3"/>
<line x1="303.4" y1="490.0" x2="265.9" y2="510.0" stroke="#5e6063" stroke-width="9.3"/>
<line x1="303.4" y1="490.0" x2="265.9" y2="510.0" stroke="#85888b" stroke-width="5.8"/>
<line x1="303.4" y1="490.0" x2="265.9" y2="510.0" stroke="#a9acaf" stroke-width="2.0"/>
<line x1="303.4" y1="490.0" x2="339.9" y2="509.5" stroke="#5e6063" stroke-width="9.3"/>
<line x1="303.4" y1="490.0" x2="339.9" y2="509.5" stroke="#85888b" stroke-width="5.8"/>
<line x1="303.4" y1="490.0" x2="339.9" y2="509.5" stroke="#a9acaf" stroke-width="2.0"/>
<line x1="448.0" y1="304.5" x2="448.0" y2="276.0" stroke="#5e6063" stroke-width="10.5"/>
<line x1="448.0" y1="304.5" x2="448.0" y2="276.0" stroke="#85888b" stroke-width="6.5"/>
<line x1="448.0" y1="304.5" x2="448.0" y2="276.0" stroke="#a9acaf" stroke-width="2.3"/>
<line x1="448.0" y1="304.5" x2="410.5" y2="284.0" stroke="#5e6063" stroke-width="9.3"/>
<line x1="448.0" y1="304.5" x2="410.5" y2="284.0" stroke="#85888b" stroke-width="5.8"/>
<line x1="448.0" y1="304.5" x2="410.5" y2="284.0" stroke="#a9acaf" stroke-width="2.0"/>
<line x1="448.0" y1="304.5" x2="485.0" y2="284.0" stroke="#5e6063" stroke-width="9.3"/>
<line x1="448.0" y1="304.5" x2="485.0" y2="284.0" stroke="#85888b" stroke-width="5.8"/>
<line x1="448.0" y1="304.5" x2="485.0" y2="284.0" stroke="#a9acaf" stroke-width="2.0"/>
<line x1="448.0" y1="490.0" x2="448.0" y2="518.3" stroke="#5e6063" stroke-width="10.5"/>
<line x1="448.0" y1="490.0" x2="448.0" y2="518.3" stroke="#85888b" stroke-width="6.5"/>
<line x1="448.0" y1="490.0" x2="448.0" y2="518.3" stroke="#a9acaf" stroke-width="2.3"/>
<line x1="448.0" y1="490.0" x2="410.5" y2="510.0" stroke="#5e6063" stroke-width="9.3"/>
<line x1="448.0" y1="490.0" x2="410.5" y2="510.0" stroke="#85888b" stroke-width="5.8"/>
<line x1="448.0" y1="490.0" x2="410.5" y2="510.0" stroke="#a9acaf" stroke-width="2.0"/>
<line x1="448.0" y1="490.0" x2="484.5" y2="509.5" stroke="#5e6063" stroke-width="9.3"/>
<line x1="448.0" y1="490.0" x2="484.5" y2="509.5" stroke="#85888b" stroke-width="5.8"/>
<line x1="448.0" y1="490.0" x2="484.5" y2="509.5" stroke="#a9acaf" stroke-width="2.0"/>
<line x1="592.6" y1="304.5" x2="592.6" y2="276.0" stroke="#5e6063" stroke-width="10.5"/>
<line x1="592.6" y1="304.5" x2="592.6" y2="276.0" stroke="#85888b" stroke-width="6.5"/>
<line x1="592.6" y1="304.5" x2="592.6" y2="276.0" stroke="#a9acaf" stroke-width="2.3"/>
<line x1="592.6" y1="304.5" x2="555.1" y2="284.0" stroke="#5e6063" stroke-width="9.3"/>
<line x1="592.6" y1="304.5" x2="555.1" y2="284.0" stroke="#85888b" stroke-width="5.8"/>
<line x1="592.6" y1="304.5" x2="555.1" y2="284.0" stroke="#a9acaf" stroke-width="2.0"/>
<line x1="592.6" y1="304.5" x2="629.6" y2="284.0" stroke="#5e6063" stroke-width="9.3"/>
<line x1="592.6" y1="304.5" x2="629.6" y2="284.0" stroke="#85888b" stroke-width="5.8"/>
<line x1="592.6" y1="304.5" x2="629.6" y2="284.0" stroke="#a9acaf" stroke-width="2.0"/>
<line x1="592.6" y1="304.5" x2="630.1" y2="324.5" stroke="#5e6063" stroke-width="9.3"/>
<line x1="592.6" y1="304.5" x2="630.1" y2="324.5" stroke="#85888b" stroke-width="5.8"/>
<line x1="592.6" y1="304.5" x2="630.1" y2="324.5" stroke="#a9acaf" stroke-width="2.0"/>
<line x1="592.6" y1="490.0" x2="592.6" y2="518.3" stroke="#5e6063" stroke-width="10.5"/>
<line x1="592.6" y1="490.0" x2="592.6" y2="518.3" stroke="#85888b" stroke-width="6.5"/>
<line x1="592.6" y1="490.0" x2="592.6" y2="518.3" stroke="#a9acaf" stroke-width="2.3"/>
<line x1="592.6" y1="490.0" x2="555.1" y2="510.0" stroke="#5e6063" stroke-width="9.3"/>
<line x1="592.6" y1="490.0" x2="555.1" y2="510.0" stroke="#85888b" stroke-width="5.8"/>
<line x1="592.6" y1="490.0" x2="555.1" y2="510.0" stroke="#a9acaf" stroke-width="2.0"/>
<line x1="592.6" y1="490.0" x2="629.1" y2="509.5" stroke="#5e6063" stroke-width="9.3"/>
<line x1="592.6" y1="490.0" x2="629.1" y2="509.5" stroke="#85888b" stroke-width="5.8"/>
<line x1="592.6" y1="490.0" x2="629.1" y2="509.5" stroke="#a9acaf" stroke-width="2.0"/>
<line x1="592.6" y1="490.0" x2="630.1" y2="470.5" stroke="#5e6063" stroke-width="9.3"/>
<line x1="592.6" y1="490.0" x2="630.1" y2="470.5" stroke="#85888b" stroke-width="5.8"/>
<line x1="592.6" y1="490.0" x2="630.1" y2="470.5" stroke="#a9acaf" stroke-width="2.0"/>
<line x1="158.8" y1="358.5" x2="122.3" y2="375.5" stroke="#8c0f0f" stroke-width="8.0"/>
<line x1="158.8" y1="358.5" x2="122.3" y2="375.5" stroke="#cf1919" stroke-width="5.0"/>
<line x1="158.8" y1="358.5" x2="122.3" y2="375.5" stroke="#e93a34" stroke-width="1.8"/>
<line x1="592.6" y1="358.5" x2="630.1" y2="377.5" stroke="#8c0f0f" stroke-width="8.0"/>
<line x1="592.6" y1="358.5" x2="630.1" y2="377.5" stroke="#cf1919" stroke-width="5.0"/>
<line x1="592.6" y1="358.5" x2="630.1" y2="377.5" stroke="#e93a34" stroke-width="1.8"/>
<line x1="158.8" y1="436.0" x2="122.3" y2="416.0" stroke="#8c0f0f" stroke-width="8.0"/>
<line x1="158.8" y1="436.0" x2="122.3" y2="416.0" stroke="#cf1919" stroke-width="5.0"/>
<line x1="158.8" y1="436.0" x2="122.3" y2="416.0" stroke="#e93a34" stroke-width="1.8"/>
<line x1="592.6" y1="436.0" x2="630.1" y2="417.5" stroke="#8c0f0f" stroke-width="8.0"/>
<line x1="592.6" y1="436.0" x2="630.1" y2="417.5" stroke="#cf1919" stroke-width="5.0"/>
<line x1="592.6" y1="436.0" x2="630.1" y2="417.5" stroke="#e93a34" stroke-width="1.8"/>
<line x1="158.8" y1="304.5" x2="158.8" y2="331.5" stroke="#5e6063" stroke-width="9.1"/>
<line x1="158.8" y1="304.5" x2="158.8" y2="331.5" stroke="#85888b" stroke-width="5.7"/>
<line x1="158.8" y1="304.5" x2="158.8" y2="331.5" stroke="#a9acaf" stroke-width="2.0"/>
<line x1="158.8" y1="331.5" x2="158.8" y2="358.5" stroke="#8c0f0f" stroke-width="9.1"/>
<line x1="158.8" y1="331.5" x2="158.8" y2="358.5" stroke="#cf1919" stroke-width="5.7"/>
<line x1="158.8" y1="331.5" x2="158.8" y2="358.5" stroke="#e93a34" stroke-width="2.0"/>
<line x1="158.8" y1="490.0" x2="158.8" y2="463.0" stroke="#5e6063" stroke-width="9.1"/>
<line x1="158.8" y1="490.0" x2="158.8" y2="463.0" stroke="#85888b" stroke-width="5.7"/>
<line x1="158.8" y1="490.0" x2="158.8" y2="463.0" stroke="#a9acaf" stroke-width="2.0"/>
<line x1="158.8" y1="463.0" x2="158.8" y2="436.0" stroke="#8c0f0f" stroke-width="9.1"/>
<line x1="158.8" y1="463.0" x2="158.8" y2="436.0" stroke="#cf1919" stroke-width="5.7"/>
<line x1="158.8" y1="463.0" x2="158.8" y2="436.0" stroke="#e93a34" stroke-width="2.0"/>
<line x1="158.8" y1="304.5" x2="194.7" y2="323.2" stroke="#5e6063" stroke-width="7.8"/>
<line x1="158.8" y1="304.5" x2="194.7" y2="323.2" stroke="#85888b" stroke-width="4.8"/>
<line x1="158.8" y1="304.5" x2="194.7" y2="323.2" stroke="#a9acaf" stroke-width="1.7"/>
<line x1="194.7" y1="323.2" x2="230.5" y2="342.0" stroke="#8c0f0f" stroke-width="7.8"/>
<line x1="194.7" y1="323.2" x2="230.5" y2="342.0" stroke="#cf1919" stroke-width="4.8"/>
<line x1="194.7" y1="323.2" x2="230.5" y2="342.0" stroke="#e93a34" stroke-width="1.7"/>
<line x1="158.8" y1="490.0" x2="194.7" y2="470.5" stroke="#5e6063" stroke-width="7.8"/>
<line x1="158.8" y1="490.0" x2="194.7" y2="470.5" stroke="#85888b" stroke-width="4.8"/>
<line x1="158.8" y1="490.0" x2="194.7" y2="470.5" stroke="#a9acaf" stroke-width="1.7"/>
<line x1="194.7" y1="470.5" x2="230.5" y2="451.0" stroke="#8c0f0f" stroke-width="7.8"/>
<line x1="194.7" y1="470.5" x2="230.5" y2="451.0" stroke="#cf1919" stroke-width="4.8"/>
<line x1="194.7" y1="470.5" x2="230.5" y2="451.0" stroke="#e93a34" stroke-width="1.7"/>
<line x1="303.4" y1="304.5" x2="303.4" y2="331.5" stroke="#5e6063" stroke-width="9.1"/>
<line x1="303.4" y1="304.5" x2="303.4" y2="331.5" stroke="#85888b" stroke-width="5.7"/>
<line x1="303.4" y1="304.5" x2="303.4" y2="331.5" stroke="#a9acaf" stroke-width="2.0"/>
<line x1="303.4" y1="331.5" x2="303.4" y2="358.5" stroke="#8c0f0f" stroke-width="9.1"/>
<line x1="303.4" y1="331.5" x2="303.4" y2="358.5" stroke="#cf1919" stroke-width="5.7"/>
<line x1="303.4" y1="331.5" x2="303.4" y2="358.5" stroke="#e93a34" stroke-width="2.0"/>
<line x1="303.4" y1="490.0" x2="303.4" y2="463.0" stroke="#5e6063" stroke-width="9.1"/>
<line x1="303.4" y1="490.0" x2="303.4" y2="463.0" stroke="#85888b" stroke-width="5.7"/>
<line x1="303.4" y1="490.0" x2="303.4" y2="463.0" stroke="#a9acaf" stroke-width="2.0"/>
<line x1="303.4" y1="463.0" x2="303.4" y2="436.0" stroke="#8c0f0f" stroke-width="9.1"/>
<line x1="303.4" y1="463.0" x2="303.4" y2="436.0" stroke="#cf1919" stroke-width="5.7"/>
<line x1="303.4" y1="463.0" x2="303.4" y2="436.0" stroke="#e93a34" stroke-width="2.0"/>
<line x1="303.4" y1="304.5" x2="266.9" y2="323.2" stroke="#5e6063" stroke-width="7.8"/>
<line x1="303.4" y1="304.5" x2="266.9" y2="323.2" stroke="#85888b" stroke-width="4.8"/>
<line x1="303.4" y1="304.5" x2="266.9" y2="323.2" stroke="#a9acaf" stroke-width="1.7"/>
<line x1="266.9" y1="323.2" x2="230.5" y2="342.0" stroke="#8c0f0f" stroke-width="7.8"/>
<line x1="266.9" y1="323.2" x2="230.5" y2="342.0" stroke="#cf1919" stroke-width="4.8"/>
<line x1="266.9" y1="323.2" x2="230.5" y2="342.0" stroke="#e93a34" stroke-width="1.7"/>
<line x1="303.4" y1="490.0" x2="266.9" y2="470.5" stroke="#5e6063" stroke-width="7.8"/>
<line x1="303.4" y1="490.0" x2="266.9" y2="470.5" stroke="#85888b" stroke-width="4.8"/>
<line x1="303.4" y1="490.0" x2="266.9" y2="470.5" stroke="#a9acaf" stroke-width="1.7"/>
<line x1="266.9" y1="470.5" x2="230.5" y2="451.0" stroke="#8c0f0f" stroke-width="7.8"/>
<line x1="266.9" y1="470.5" x2="230.5" y2="451.0" stroke="#cf1919" stroke-width="4.8"/>
<line x1="266.9" y1="470.5" x2="230.5" y2="451.0" stroke="#e93a34" stroke-width="1.7"/>
<line x1="303.4" y1="304.5" x2="339.2" y2="323.2" stroke="#5e6063" stroke-width="7.8"/>
<line x1="303.4" y1="304.5" x2="339.2" y2="323.2" stroke="#85888b" stroke-width="4.8"/>
<line x1="303.4" y1="304.5" x2="339.2" y2="323.2" stroke="#a9acaf" stroke-width="1.7"/>
<line x1="339.2" y1="323.2" x2="375.1" y2="342.0" stroke="#8c0f0f" stroke-width="7.8"/>
<line x1="339.2" y1="323.2" x2="375.1" y2="342.0" stroke="#cf1919" stroke-width="4.8"/>
<line x1="339.2" y1="323.2" x2="375.1" y2="342.0" stroke="#e93a34" stroke-width="1.7"/>
<line x1="303.4" y1="490.0" x2="339.2" y2="470.5" stroke="#5e6063" stroke-width="7.8"/>
<line x1="303.4" y1="490.0" x2="339.2" y2="470.5" stroke="#85888b" stroke-width="4.8"/>
<line x1="303.4" y1="490.0" x2="339.2" y2="470.5" stroke="#a9acaf" stroke-width="1.7"/>
<line x1="339.2" y1="470.5" x2="375.1" y2="451.0" stroke="#8c0f0f" stroke-width="7.8"/>
<line x1="339.2" y1="470.5" x2="375.1" y2="451.0" stroke="#cf1919" stroke-width="4.8"/>
<line x1="339.2" y1="470.5" x2="375.1" y2="451.0" stroke="#e93a34" stroke-width="1.7"/>
<line x1="448.0" y1="304.5" x2="448.0" y2="331.5" stroke="#5e6063" stroke-width="9.1"/>
<line x1="448.0" y1="304.5" x2="448.0" y2="331.5" stroke="#85888b" stroke-width="5.7"/>
<line x1="448.0" y1="304.5" x2="448.0" y2="331.5" stroke="#a9acaf" stroke-width="2.0"/>
<line x1="448.0" y1="331.5" x2="448.0" y2="358.5" stroke="#8c0f0f" stroke-width="9.1"/>
<line x1="448.0" y1="331.5" x2="448.0" y2="358.5" stroke="#cf1919" stroke-width="5.7"/>
<line x1="448.0" y1="331.5" x2="448.0" y2="358.5" stroke="#e93a34" stroke-width="2.0"/>
<line x1="448.0" y1="490.0" x2="448.0" y2="463.0" stroke="#5e6063" stroke-width="9.1"/>
<line x1="448.0" y1="490.0" x2="448.0" y2="463.0" stroke="#85888b" stroke-width="5.7"/>
<line x1="448.0" y1="490.0" x2="448.0" y2="463.0" stroke="#a9acaf" stroke-width="2.0"/>
<line x1="448.0" y1="463.0" x2="448.0" y2="436.0" stroke="#8c0f0f" stroke-width="9.1"/>
<line x1="448.0" y1="463.0" x2="448.0" y2="436.0" stroke="#cf1919" stroke-width="5.7"/>
<line x1="448.0" y1="463.0" x2="448.0" y2="436.0" stroke="#e93a34" stroke-width="2.0"/>
<line x1="448.0" y1="304.5" x2="411.6" y2="323.2" stroke="#5e6063" stroke-width="7.8"/>
<line x1="448.0" y1="304.5" x2="411.6" y2="323.2" stroke="#85888b" stroke-width="4.8"/>
<line x1="448.0" y1="304.5" x2="411.6" y2="323.2" stroke="#a9acaf" stroke-width="1.7"/>
<line x1="411.6" y1="323.2" x2="375.1" y2="342.0" stroke="#8c0f0f" stroke-width="7.8"/>
<line x1="411.6" y1="323.2" x2="375.1" y2="342.0" stroke="#cf1919" stroke-width="4.8"/>
<line x1="411.6" y1="323.2" x2="375.1" y2="342.0" stroke="#e93a34" stroke-width="1.7"/>
<line x1="448.0" y1="490.0" x2="411.6" y2="470.5" stroke="#5e6063" stroke-width="7.8"/>
<line x1="448.0" y1="490.0" x2="411.6" y2="470.5" stroke="#85888b" stroke-width="4.8"/>
<line x1="448.0" y1="490.0" x2="411.6" y2="470.5" stroke="#a9acaf" stroke-width="1.7"/>
<line x1="411.6" y1="470.5" x2="375.1" y2="451.0" stroke="#8c0f0f" stroke-width="7.8"/>
<line x1="411.6" y1="470.5" x2="375.1" y2="451.0" stroke="#cf1919" stroke-width="4.8"/>
<line x1="411.6" y1="470.5" x2="375.1" y2="451.0" stroke="#e93a34" stroke-width="1.7"/>
<line x1="448.0" y1="304.5" x2="483.9" y2="323.2" stroke="#5e6063" stroke-width="7.8"/>
<line x1="448.0" y1="304.5" x2="483.9" y2="323.2" stroke="#85888b" stroke-width="4.8"/>
<line x1="448.0" y1="304.5" x2="483.9" y2="323.2" stroke="#a9acaf" stroke-width="1.7"/>
<line x1="483.9" y1="323.2" x2="519.7" y2="342.0" stroke="#8c0f0f" stroke-width="7.8"/>
<line x1="483.9" y1="323.2" x2="519.7" y2="342.0" stroke="#cf1919" stroke-width="4.8"/>
<line x1="483.9" y1="323.2" x2="519.7" y2="342.0" stroke="#e93a34" stroke-width="1.7"/>
<line x1="448.0" y1="490.0" x2="483.9" y2="470.5" stroke="#5e6063" stroke-width="7.8"/>
<line x1="448.0" y1="490.0" x2="483.9" y2="470.5" stroke="#85888b" stroke-width="4.8"/>
<line x1="448.0" y1="490.0" x2="483.9" y2="470.5" stroke="#a9acaf" stroke-width="1.7"/>
<line x1="483.9" y1="470.5" x2="519.7" y2="451.0" stroke="#8c0f0f" stroke-width="7.8"/>
<line x1="483.9" y1="470.5" x2="519.7" y2="451.0" stroke="#cf1919" stroke-width="4.8"/>
<line x1="483.9" y1="470.5" x2="519.7" y2="451.0" stroke="#e93a34" stroke-width="1.7"/>
<line x1="592.6" y1="304.5" x2="592.6" y2="331.5" stroke="#5e6063" stroke-width="9.1"/>
<line x1="592.6" y1="304.5" x2="592.6" y2="331.5" stroke="#85888b" stroke-width="5.7"/>
<line x1="592.6" y1="304.5" x2="592.6" y2="331.5" stroke="#a9acaf" stroke-width="2.0"/>
<line x1="592.6" y1="331.5" x2="592.6" y2="358.5" stroke="#8c0f0f" stroke-width="9.1"/>
<line x1="592.6" y1="331.5" x2="592.6" y2="358.5" stroke="#cf1919" stroke-width="5.7"/>
<line x1="592.6" y1="331.5" x2="592.6" y2="358.5" stroke="#e93a34" stroke-width="2.0"/>
<line x1="592.6" y1="490.0" x2="592.6" y2="463.0" stroke="#5e6063" stroke-width="9.1"/>
<line x1="592.6" y1="490.0" x2="592.6" y2="463.0" stroke="#85888b" stroke-width="5.7"/>
<line x1="592.6" y1="490.0" x2="592.6" y2="463.0" stroke="#a9acaf" stroke-width="2.0"/>
<line x1="592.6" y1="463.0" x2="592.6" y2="436.0" stroke="#8c0f0f" stroke-width="9.1"/>
<line x1="592.6" y1="463.0" x2="592.6" y2="436.0" stroke="#cf1919" stroke-width="5.7"/>
<line x1="592.6" y1="463.0" x2="592.6" y2="436.0" stroke="#e93a34" stroke-width="2.0"/>
<line x1="592.6" y1="304.5" x2="556.1" y2="323.2" stroke="#5e6063" stroke-width="7.8"/>
<line x1="592.6" y1="304.5" x2="556.1" y2="323.2" stroke="#85888b" stroke-width="4.8"/>
<line x1="592.6" y1="304.5" x2="556.1" y2="323.2" stroke="#a9acaf" stroke-width="1.7"/>
<line x1="556.1" y1="323.2" x2="519.7" y2="342.0" stroke="#8c0f0f" stroke-width="7.8"/>
<line x1="556.1" y1="323.2" x2="519.7" y2="342.0" stroke="#cf1919" stroke-width="4.8"/>
<line x1="556.1" y1="323.2" x2="519.7" y2="342.0" stroke="#e93a34" stroke-width="1.7"/>
<line x1="592.6" y1="490.0" x2="556.1" y2="470.5" stroke="#5e6063" stroke-width="7.8"/>
<line x1="592.6" y1="490.0" x2="556.1" y2="470.5" stroke="#85888b" stroke-width="4.8"/>
<line x1="592.6" y1="490.0" x2="556.1" y2="470.5" stroke="#a9acaf" stroke-width="1.7"/>
<line x1="556.1" y1="470.5" x2="519.7" y2="451.0" stroke="#8c0f0f" stroke-width="7.8"/>
<line x1="556.1" y1="470.5" x2="519.7" y2="451.0" stroke="#cf1919" stroke-width="4.8"/>
<line x1="556.1" y1="470.5" x2="519.7" y2="451.0" stroke="#e93a34" stroke-width="1.7"/>
<line x1="230.5" y1="397.0" x2="230.5" y2="369.5" stroke="#5e6063" stroke-width="9.1"/>
<line x1="230.5" y1="397.0" x2="230.5" y2="369.5" stroke="#85888b" stroke-width="5.7"/>
<line x1="230.5" y1="397.0" x2="230.5" y2="369.5" stroke="#a9acaf" stroke-width="2.0"/>
<line x1="230.5" y1="369.5" x2="230.5" y2="342.0" stroke="#8c0f0f" stroke-width="9.1"/>
<line x1="230.5" y1="369.5" x2="230.5" y2="342.0" stroke="#cf1919" stroke-width="5.7"/>
<line x1="230.5" y1="369.5" x2="230.5" y2="342.0" stroke="#e93a34" stroke-width="2.0"/>
<line x1="230.5" y1="397.0" x2="230.5" y2="424.0" stroke="#5e6063" stroke-width="9.1"/>
<line x1="230.5" y1="397.0" x2="230.5" y2="424.0" stroke="#85888b" stroke-width="5.7"/>
<line x1="230.5" y1="397.0" x2="230.5" y2="424.0" stroke="#a9acaf" stroke-width="2.0"/>
<line x1="230.5" y1="424.0" x2="230.5" y2="451.0" stroke="#8c0f0f" stroke-width="9.1"/>
<line x1="230.5" y1="424.0" x2="230.5" y2="451.0" stroke="#cf1919" stroke-width="5.7"/>
<line x1="230.5" y1="424.0" x2="230.5" y2="451.0" stroke="#e93a34" stroke-width="2.0"/>
<line x1="230.5" y1="397.0" x2="194.7" y2="377.8" stroke="#85878a" stroke-width="7.8"/>
<line x1="230.5" y1="397.0" x2="194.7" y2="377.8" stroke="#abadb0" stroke-width="4.8"/>
<line x1="230.5" y1="397.0" x2="194.7" y2="377.8" stroke="#c9cbcd" stroke-width="1.7"/>
<line x1="194.7" y1="377.8" x2="158.8" y2="358.5" stroke="#8c0f0f" stroke-width="7.8"/>
<line x1="194.7" y1="377.8" x2="158.8" y2="358.5" stroke="#cf1919" stroke-width="4.8"/>
<line x1="194.7" y1="377.8" x2="158.8" y2="358.5" stroke="#e93a34" stroke-width="1.7"/>
<line x1="230.5" y1="397.0" x2="266.9" y2="377.8" stroke="#85878a" stroke-width="7.8"/>
<line x1="230.5" y1="397.0" x2="266.9" y2="377.8" stroke="#abadb0" stroke-width="4.8"/>
<line x1="230.5" y1="397.0" x2="266.9" y2="377.8" stroke="#c9cbcd" stroke-width="1.7"/>
<line x1="266.9" y1="377.8" x2="303.4" y2="358.5" stroke="#8c0f0f" stroke-width="7.8"/>
<line x1="266.9" y1="377.8" x2="303.4" y2="358.5" stroke="#cf1919" stroke-width="4.8"/>
<line x1="266.9" y1="377.8" x2="303.4" y2="358.5" stroke="#e93a34" stroke-width="1.7"/>
<line x1="230.5" y1="397.0" x2="194.7" y2="416.5" stroke="#85878a" stroke-width="7.8"/>
<line x1="230.5" y1="397.0" x2="194.7" y2="416.5" stroke="#abadb0" stroke-width="4.8"/>
<line x1="230.5" y1="397.0" x2="194.7" y2="416.5" stroke="#c9cbcd" stroke-width="1.7"/>
<line x1="194.7" y1="416.5" x2="158.8" y2="436.0" stroke="#8c0f0f" stroke-width="7.8"/>
<line x1="194.7" y1="416.5" x2="158.8" y2="436.0" stroke="#cf1919" stroke-width="4.8"/>
<line x1="194.7" y1="416.5" x2="158.8" y2="436.0" stroke="#e93a34" stroke-width="1.7"/>
<line x1="230.5" y1="397.0" x2="266.9" y2="416.5" stroke="#85878a" stroke-width="7.8"/>
<line x1="230.5" y1="397.0" x2="266.9" y2="416.5" stroke="#abadb0" stroke-width="4.8"/>
<line x1="230.5" y1="397.0" x2="266.9" y2="416.5" stroke="#c9cbcd" stroke-width="1.7"/>
<line x1="266.9" y1="416.5" x2="303.4" y2="436.0" stroke="#8c0f0f" stroke-width="7.8"/>
<line x1="266.9" y1="416.5" x2="303.4" y2="436.0" stroke="#cf1919" stroke-width="4.8"/>
<line x1="266.9" y1="416.5" x2="303.4" y2="436.0" stroke="#e93a34" stroke-width="1.7"/>
<line x1="375.1" y1="397.0" x2="375.1" y2="369.5" stroke="#5e6063" stroke-width="9.1"/>
<line x1="375.1" y1="397.0" x2="375.1" y2="369.5" stroke="#85888b" stroke-width="5.7"/>
<line x1="375.1" y1="397.0" x2="375.1" y2="369.5" stroke="#a9acaf" stroke-width="2.0"/>
<line x1="375.1" y1="369.5" x2="375.1" y2="342.0" stroke="#8c0f0f" stroke-width="9.1"/>
<line x1="375.1" y1="369.5" x2="375.1" y2="342.0" stroke="#cf1919" stroke-width="5.7"/>
<line x1="375.1" y1="369.5" x2="375.1" y2="342.0" stroke="#e93a34" stroke-width="2.0"/>
<line x1="375.1" y1="397.0" x2="375.1" y2="424.0" stroke="#5e6063" stroke-width="9.1"/>
<line x1="375.1" y1="397.0" x2="375.1" y2="424.0" stroke="#85888b" stroke-width="5.7"/>
<line x1="375.1" y1="397.0" x2="375.1" y2="424.0" stroke="#a9acaf" stroke-width="2.0"/>
<line x1="375.1" y1="424.0" x2="375.1" y2="451.0" stroke="#8c0f0f" stroke-width="9.1"/>
<line x1="375.1" y1="424.0" x2="375.1" y2="451.0" stroke="#cf1919" stroke-width="5.7"/>
<line x1="375.1" y1="424.0" x2="375.1" y2="451.0" stroke="#e93a34" stroke-width="2.0"/>
<line x1="375.1" y1="397.0" x2="339.2" y2="377.8" stroke="#85878a" stroke-width="7.8"/>
<line x1="375.1" y1="397.0" x2="339.2" y2="377.8" stroke="#abadb0" stroke-width="4.8"/>
<line x1="375.1" y1="397.0" x2="339.2" y2="377.8" stroke="#c9cbcd" stroke-width="1.7"/>
<line x1="339.2" y1="377.8" x2="303.4" y2="358.5" stroke="#8c0f0f" stroke-width="7.8"/>
<line x1="339.2" y1="377.8" x2="303.4" y2="358.5" stroke="#cf1919" stroke-width="4.8"/>
<line x1="339.2" y1="377.8" x2="303.4" y2="358.5" stroke="#e93a34" stroke-width="1.7"/>
<line x1="375.1" y1="397.0" x2="411.6" y2="377.8" stroke="#85878a" stroke-width="7.8"/>
<line x1="375.1" y1="397.0" x2="411.6" y2="377.8" stroke="#abadb0" stroke-width="4.8"/>
<line x1="375.1" y1="397.0" x2="411.6" y2="377.8" stroke="#c9cbcd" stroke-width="1.7"/>
<line x1="411.6" y1="377.8" x2="448.0" y2="358.5" stroke="#8c0f0f" stroke-width="7.8"/>
<line x1="411.6" y1="377.8" x2="448.0" y2="358.5" stroke="#cf1919" stroke-width="4.8"/>
<line x1="411.6" y1="377.8" x2="448.0" y2="358.5" stroke="#e93a34" stroke-width="1.7"/>
<line x1="375.1" y1="397.0" x2="339.2" y2="416.5" stroke="#85878a" stroke-width="7.8"/>
<line x1="375.1" y1="397.0" x2="339.2" y2="416.5" stroke="#abadb0" stroke-width="4.8"/>
<line x1="375.1" y1="397.0" x2="339.2" y2="416.5" stroke="#c9cbcd" stroke-width="1.7"/>
<line x1="339.2" y1="416.5" x2="303.4" y2="436.0" stroke="#8c0f0f" stroke-width="7.8"/>
<line x1="339.2" y1="416.5" x2="303.4" y2="436.0" stroke="#cf1919" stroke-width="4.8"/>
<line x1="339.2" y1="416.5" x2="303.4" y2="436.0" stroke="#e93a34" stroke-width="1.7"/>
<line x1="375.1" y1="397.0" x2="411.6" y2="416.5" stroke="#85878a" stroke-width="7.8"/>
<line x1="375.1" y1="397.0" x2="411.6" y2="416.5" stroke="#abadb0" stroke-width="4.8"/>
<line x1="375.1" y1="397.0" x2="411.6" y2="416.5" stroke="#c9cbcd" stroke-width="1.7"/>
<line x1="411.6" y1="416.5" x2="448.0" y2="436.0" stroke="#8c0f0f" stroke-width="7.8"/>
<line x1="411.6" y1="416.5" x2="448.0" y2="436.0" stroke="#cf1919" stroke-width="4.8"/>
<line x1="411.6" y1="416.5" x2="448.0" y2="436.0" stroke="#e93a34" stroke-width="1.7"/>
<line x1="519.7" y1="397.0" x2="519.7" y2="369.5" stroke="#5e6063" stroke-width="9.1"/>
<line x1="519.7" y1="397.0" x2="519.7" y2="369.5" stroke="#85888b" stroke-width="5.7"/>
<line x1="519.7" y1="397.0" x2="519.7" y2="369.5" stroke="#a9acaf" stroke-width="2.0"/>
<line x1="519.7" y1="369.5" x2="519.7" y2="342.0" stroke="#8c0f0f" stroke-width="9.1"/>
<line x1="519.7" y1="369.5" x2="519.7" y2="342.0" stroke="#cf1919" stroke-width="5.7"/>
<line x1="519.7" y1="369.5" x2="519.7" y2="342.0" stroke="#e93a34" stroke-width="2.0"/>
<line x1="519.7" y1="397.0" x2="519.7" y2="424.0" stroke="#5e6063" stroke-width="9.1"/>
<line x1="519.7" y1="397.0" x2="519.7" y2="424.0" stroke="#85888b" stroke-width="5.7"/>
<line x1="519.7" y1="397.0" x2="519.7" y2="424.0" stroke="#a9acaf" stroke-width="2.0"/>
<line x1="519.7" y1="424.0" x2="519.7" y2="451.0" stroke="#8c0f0f" stroke-width="9.1"/>
<line x1="519.7" y1="424.0" x2="519.7" y2="451.0" stroke="#cf1919" stroke-width="5.7"/>
<line x1="519.7" y1="424.0" x2="519.7" y2="451.0" stroke="#e93a34" stroke-width="2.0"/>
<line x1="519.7" y1="397.0" x2="483.9" y2="377.8" stroke="#85878a" stroke-width="7.8"/>
<line x1="519.7" y1="397.0" x2="483.9" y2="377.8" stroke="#abadb0" stroke-width="4.8"/>
<line x1="519.7" y1="397.0" x2="483.9" y2="377.8" stroke="#c9cbcd" stroke-width="1.7"/>
<line x1="483.9" y1="377.8" x2="448.0" y2="358.5" stroke="#8c0f0f" stroke-width="7.8"/>
<line x1="483.9" y1="377.8" x2="448.0" y2="358.5" stroke="#cf1919" stroke-width="4.8"/>
<line x1="483.9" y1="377.8" x2="448.0" y2="358.5" stroke="#e93a34" stroke-width="1.7"/>
<line x1="519.7" y1="397.0" x2="556.1" y2="377.8" stroke="#85878a" stroke-width="7.8"/>
<line x1="519.7" y1="397.0" x2="556.1" y2="377.8" stroke="#abadb0" stroke-width="4.8"/>
<line x1="519.7" y1="397.0" x2="556.1" y2="377.8" stroke="#c9cbcd" stroke-width="1.7"/>
<line x1="556.1" y1="377.8" x2="592.6" y2="358.5" stroke="#8c0f0f" stroke-width="7.8"/>
<line x1="556.1" y1="377.8" x2="592.6" y2="358.5" stroke="#cf1919" stroke-width="4.8"/>
<line x1="556.1" y1="377.8" x2="592.6" y2="358.5" stroke="#e93a34" stroke-width="1.7"/>
<line x1="519.7" y1="397.0" x2="483.9" y2="416.5" stroke="#85878a" stroke-width="7.8"/>
<line x1="519.7" y1="397.0" x2="483.9" y2="416.5" stroke="#abadb0" stroke-width="4.8"/>
<line x1="519.7" y1="397.0" x2="483.9" y2="416.5" stroke="#c9cbcd" stroke-width="1.7"/>
<line x1="483.9" y1="416.5" x2="448.0" y2="436.0" stroke="#8c0f0f" stroke-width="7.8"/>
<line x1="483.9" y1="416.5" x2="448.0" y2="436.0" stroke="#cf1919" stroke-width="4.8"/>
<line x1="483.9" y1="416.5" x2="448.0" y2="436.0" stroke="#e93a34" stroke-width="1.7"/>
<line x1="519.7" y1="397.0" x2="556.1" y2="416.5" stroke="#85878a" stroke-width="7.8"/>
<line x1="519.7" y1="397.0" x2="556.1" y2="416.5" stroke="#abadb0" stroke-width="4.8"/>
<line x1="519.7" y1="397.0" x2="556.1" y2="416.5" stroke="#c9cbcd" stroke-width="1.7"/>
<line x1="556.1" y1="416.5" x2="592.6" y2="436.0" stroke="#8c0f0f" stroke-width="7.8"/>
<line x1="556.1" y1="416.5" x2="592.6" y2="436.0" stroke="#cf1919" stroke-width="4.8"/>
<line x1="556.1" y1="416.5" x2="592.6" y2="436.0" stroke="#e93a34" stroke-width="1.7"/>
<ellipse cx="230.5" cy="342.0" rx="19.5" ry="14.6" fill="url(#gO)"/>
<ellipse cx="230.5" cy="451.0" rx="19.5" ry="14.6" fill="url(#gO)"/>
<ellipse cx="375.1" cy="342.0" rx="19.5" ry="14.6" fill="url(#gO)"/>
<ellipse cx="375.1" cy="451.0" rx="19.5" ry="14.6" fill="url(#gO)"/>
<ellipse cx="519.7" cy="342.0" rx="19.5" ry="14.6" fill="url(#gO)"/>
<ellipse cx="519.7" cy="451.0" rx="19.5" ry="14.6" fill="url(#gO)"/>
<ellipse cx="158.8" cy="358.5" rx="19.5" ry="14.6" fill="url(#gO)"/>
<ellipse cx="158.8" cy="436.0" rx="19.5" ry="14.6" fill="url(#gO)"/>
<ellipse cx="303.4" cy="358.5" rx="19.5" ry="14.6" fill="url(#gO)"/>
<ellipse cx="303.4" cy="436.0" rx="19.5" ry="14.6" fill="url(#gO)"/>
<ellipse cx="448.0" cy="358.5" rx="19.5" ry="14.6" fill="url(#gO)"/>
<ellipse cx="448.0" cy="436.0" rx="19.5" ry="14.6" fill="url(#gO)"/>
<ellipse cx="592.6" cy="358.5" rx="19.5" ry="14.6" fill="url(#gO)"/>
<ellipse cx="592.6" cy="436.0" rx="19.5" ry="14.6" fill="url(#gO)"/>
<line x1="158.8" y1="304.2" x2="592.6" y2="304.2" stroke="#111" stroke-width="1.4"/>
<line x1="158.8" y1="489.5" x2="592.6" y2="489.5" stroke="#111" stroke-width="1.4"/>
<line x1="159.3" y1="304.5" x2="159.3" y2="490.0" stroke="#111" stroke-width="1.6"/>
<line x1="303.9" y1="304.5" x2="303.9" y2="490.0" stroke="#111" stroke-width="1.6"/>
<line x1="448.5" y1="304.5" x2="448.5" y2="490.0" stroke="#111" stroke-width="1.6"/>
<line x1="593.1" y1="304.5" x2="593.1" y2="490.0" stroke="#111" stroke-width="1.6"/>
<line x1="158.8" y1="304.5" x2="158.8" y2="331.5" stroke="#5e6063" stroke-width="9.1"/>
<line x1="158.8" y1="304.5" x2="158.8" y2="331.5" stroke="#85888b" stroke-width="5.7"/>
<line x1="158.8" y1="304.5" x2="158.8" y2="331.5" stroke="#a9acaf" stroke-width="2.0"/>
<line x1="158.8" y1="490.0" x2="158.8" y2="463.0" stroke="#5e6063" stroke-width="9.1"/>
<line x1="158.8" y1="490.0" x2="158.8" y2="463.0" stroke="#85888b" stroke-width="5.7"/>
<line x1="158.8" y1="490.0" x2="158.8" y2="463.0" stroke="#a9acaf" stroke-width="2.0"/>
<line x1="303.4" y1="304.5" x2="303.4" y2="331.5" stroke="#5e6063" stroke-width="9.1"/>
<line x1="303.4" y1="304.5" x2="303.4" y2="331.5" stroke="#85888b" stroke-width="5.7"/>
<line x1="303.4" y1="304.5" x2="303.4" y2="331.5" stroke="#a9acaf" stroke-width="2.0"/>
<line x1="303.4" y1="490.0" x2="303.4" y2="463.0" stroke="#5e6063" stroke-width="9.1"/>
<line x1="303.4" y1="490.0" x2="303.4" y2="463.0" stroke="#85888b" stroke-width="5.7"/>
<line x1="303.4" y1="490.0" x2="303.4" y2="463.0" stroke="#a9acaf" stroke-width="2.0"/>
<line x1="448.0" y1="304.5" x2="448.0" y2="331.5" stroke="#5e6063" stroke-width="9.1"/>
<line x1="448.0" y1="304.5" x2="448.0" y2="331.5" stroke="#85888b" stroke-width="5.7"/>
<line x1="448.0" y1="304.5" x2="448.0" y2="331.5" stroke="#a9acaf" stroke-width="2.0"/>
<line x1="448.0" y1="490.0" x2="448.0" y2="463.0" stroke="#5e6063" stroke-width="9.1"/>
<line x1="448.0" y1="490.0" x2="448.0" y2="463.0" stroke="#85888b" stroke-width="5.7"/>
<line x1="448.0" y1="490.0" x2="448.0" y2="463.0" stroke="#a9acaf" stroke-width="2.0"/>
<line x1="592.6" y1="304.5" x2="592.6" y2="331.5" stroke="#5e6063" stroke-width="9.1"/>
<line x1="592.6" y1="304.5" x2="592.6" y2="331.5" stroke="#85888b" stroke-width="5.7"/>
<line x1="592.6" y1="304.5" x2="592.6" y2="331.5" stroke="#a9acaf" stroke-width="2.0"/>
<line x1="592.6" y1="490.0" x2="592.6" y2="463.0" stroke="#5e6063" stroke-width="9.1"/>
<line x1="592.6" y1="490.0" x2="592.6" y2="463.0" stroke="#85888b" stroke-width="5.7"/>
<line x1="592.6" y1="490.0" x2="592.6" y2="463.0" stroke="#a9acaf" stroke-width="2.0"/>
<ellipse cx="158.8" cy="304.5" rx="19.8" ry="15.2" fill="url(#gV)"/>
<ellipse cx="158.8" cy="490.0" rx="19.8" ry="15.2" fill="url(#gV)"/>
<ellipse cx="303.4" cy="304.5" rx="19.8" ry="15.2" fill="url(#gV)"/>
<ellipse cx="303.4" cy="490.0" rx="19.8" ry="15.2" fill="url(#gV)"/>
<ellipse cx="448.0" cy="304.5" rx="19.8" ry="15.2" fill="url(#gV)"/>
<ellipse cx="448.0" cy="490.0" rx="19.8" ry="15.2" fill="url(#gV)"/>
<ellipse cx="592.6" cy="304.5" rx="19.8" ry="15.2" fill="url(#gV)"/>
<ellipse cx="592.6" cy="490.0" rx="19.8" ry="15.2" fill="url(#gV)"/>
<ellipse cx="230.5" cy="397.0" rx="19.6" ry="15.7" fill="url(#gV)"/>
<ellipse cx="375.1" cy="397.0" rx="19.6" ry="15.7" fill="url(#gV)"/>
<ellipse cx="519.7" cy="397.0" rx="19.6" ry="15.7" fill="url(#gV)"/>
<line x1="375.1" y1="397.0" x2="318.2" y2="324.0" stroke="#000" stroke-width="7.2"/>
<polygon points="303.8,305.5 327.0,319.7 311.9,331.5" fill="#000"/>
<line x1="375.1" y1="396.2" x2="256.7" y2="396.2" stroke="#000" stroke-width="6.6"/>
<polygon points="233.2,396.2 258.7,386.6 258.7,405.8" fill="#000"/>
<ellipse cx="375.1" cy="397.0" rx="19.6" ry="15.7" fill="url(#gV)"/>
<line x1="147.3" y1="528.7" x2="290.0" y2="528.7" stroke="#000" stroke-width="4.6"/>
<polygon points="305.5,528.7 288.0,535.3 288.0,522.1" fill="#000"/>
<text x="166.3" y="557.7" font-size="32.5" textLength="101" lengthAdjust="spacingAndGlyphs" fill="#000">c axis</text>
</g>
</g>
<text x="16.5" y="39.6" font-size="50" fill="#000">a</text>
<text x="760" y="42.2" font-size="48.5" fill="#000">b</text>
<g id="panelB" filter="url(#soft2)">
<line x1="872.2" y1="18.6" x2="1483.8" y2="18.6" stroke="#666" stroke-width="1.8"/>
<line x1="1483.8" y1="18.6" x2="1483.8" y2="451.3" stroke="#666" stroke-width="1.8"/>
<line x1="872.2" y1="17.700000000000003" x2="872.2" y2="452.2" stroke="#707070" stroke-width="2.8"/>
<line x1="871.2" y1="451.3" x2="1484.7" y2="451.3" stroke="#555" stroke-width="2"/>
<line x1="865.2" y1="451.3" x2="872.2" y2="451.3" stroke="#555" stroke-width="1.3"/>
<text x="853.5" y="459.9" font-size="24" text-anchor="end" fill="#151515" stroke="#151515" stroke-width="0.6">0.0</text>
<line x1="865.2" y1="343.0" x2="872.2" y2="343.0" stroke="#555" stroke-width="1.3"/>
<text x="853.5" y="351.6" font-size="24" text-anchor="end" fill="#151515" stroke="#151515" stroke-width="0.6">0.2</text>
<line x1="865.2" y1="234.7" x2="872.2" y2="234.7" stroke="#555" stroke-width="1.3"/>
<text x="853.5" y="243.3" font-size="24" text-anchor="end" fill="#151515" stroke="#151515" stroke-width="0.6">0.4</text>
<line x1="865.2" y1="126.5" x2="872.2" y2="126.5" stroke="#555" stroke-width="1.3"/>
<text x="853.5" y="135.1" font-size="24" text-anchor="end" fill="#151515" stroke="#151515" stroke-width="0.6">0.6</text>
<line x1="865.2" y1="18.2" x2="872.2" y2="18.2" stroke="#555" stroke-width="1.3"/>
<text x="853.5" y="26.8" font-size="24" text-anchor="end" fill="#151515" stroke="#151515" stroke-width="0.6">0.8</text>
<line x1="872.2" y1="451.3" x2="872.2" y2="458.3" stroke="#555" stroke-width="1.3"/>
<text x="872.2" y="492" font-size="23" text-anchor="middle" fill="#151515" stroke="#151515" stroke-width="0.6">0</text>
<line x1="1025.0" y1="451.3" x2="1025.0" y2="458.3" stroke="#555" stroke-width="1.3"/>
<text x="1025.0" y="492" font-size="23" text-anchor="middle" fill="#151515" stroke="#151515" stroke-width="0.6">1</text>
<line x1="1177.8" y1="451.3" x2="1177.8" y2="458.3" stroke="#555" stroke-width="1.3"/>
<text x="1177.8" y="492" font-size="23" text-anchor="middle" fill="#151515" stroke="#151515" stroke-width="0.6">2</text>
<line x1="1330.6" y1="451.3" x2="1330.6" y2="458.3" stroke="#555" stroke-width="1.3"/>
<text x="1330.6" y="492" font-size="23" text-anchor="middle" fill="#151515" stroke="#151515" stroke-width="0.6">3</text>
<line x1="1483.4" y1="451.3" x2="1483.4" y2="458.3" stroke="#555" stroke-width="1.3"/>
<text x="1483.4" y="492" font-size="23" text-anchor="middle" fill="#151515" stroke="#151515" stroke-width="0.6">4</text>
<text x="1151.5" y="537" font-size="25.5" textLength="53.5" lengthAdjust="spacingAndGlyphs" fill="#151515" stroke="#151515" stroke-width="0.6">R(Å)</text>
<text transform="translate(789,283) rotate(-90)" font-size="24.5" fill="#151515" stroke="#151515" stroke-width="0.7" textLength="94" lengthAdjust="spacingAndGlyphs">|k<tspan dy="-12.5" font-size="19.5">2</tspan><tspan dy="15.5">χ</tspan><tspan dy="-3">(R)|</tspan></text>
<polyline fill="none" stroke="#1a8c1a" stroke-width="3.8" stroke-linejoin="round" points="871.0,417.0 875.7,417.3 880.4,418.1 885.1,419.9 889.8,421.3 894.5,419.8 899.2,416.8 903.9,413.6 908.6,410.1 913.3,408.8 918.0,409.8 922.7,411.4 927.4,414.1 932.1,416.7 936.8,416.1 941.5,412.2 946.2,407.7 950.8,402.6 955.5,398.8 960.2,397.0 964.9,400.0 969.6,405.0 974.3,411.7 979.0,417.6 983.7,413.7 988.4,401.9 993.1,388.0 997.8,371.7 1002.5,352.3 1007.2,335.7 1011.9,326.1 1016.6,322.4 1021.3,326.6 1026.0,333.3 1030.7,341.1 1035.4,347.2 1040.1,340.5 1044.8,327.6 1049.5,310.3 1054.2,286.8 1058.9,262.1 1063.6,238.3 1068.3,219.2 1073.0,209.8 1077.7,207.7 1082.4,211.8 1087.1,222.2 1091.8,235.3 1096.5,250.9 1101.2,262.5 1105.8,270.4 1110.5,276.1 1115.2,276.0 1119.9,274.1 1124.6,271.3 1129.3,271.5 1134.0,278.2 1138.7,286.3 1143.4,296.2 1148.1,307.9 1152.8,321.4 1157.5,340.1 1162.2,355.5 1166.9,364.0 1171.6,367.5 1176.3,363.8 1181.0,357.0 1185.7,349.8 1190.4,344.4 1195.1,340.5 1199.8,337.6 1204.5,335.7 1209.2,336.1 1213.9,338.8 1218.6,342.3 1223.3,347.9 1228.0,354.9 1232.7,364.0 1237.4,373.5 1242.1,381.9 1246.8,389.9 1251.5,397.4 1256.2,404.2 1260.9,410.1 1265.5,415.2 1270.2,419.9 1274.9,423.0 1279.6,421.3 1284.3,415.2 1289.0,399.3 1293.7,383.1 1298.4,367.8 1303.1,350.4 1307.8,329.5 1312.5,315.0 1317.2,306.9 1321.9,304.0 1326.6,306.2 1331.3,312.2 1336.0,322.6 1340.7,341.2 1345.4,358.7 1350.1,383.0 1354.8,403.1 1359.5,413.7 1364.2,419.8 1368.9,417.3 1373.6,413.1 1378.3,410.0 1383.0,412.7 1387.7,419.9 1392.4,430.1 1397.1,438.5 1401.8,441.8 1406.5,430.9 1411.2,415.4 1415.9,402.3 1420.5,392.6 1425.2,389.4 1429.9,389.3 1434.6,396.9 1439.3,406.0 1444.0,415.7 1448.7,422.4 1453.4,425.0 1458.1,422.1 1462.8,415.0 1467.5,405.3 1472.2,397.8 1476.9,393.9 1481.6,395.5"/>
<g fill="#1a8c1a"><path d="M865.2,417.0L871.0,411.2L876.8,417.0L871.0,422.8Z"/><path d="M869.9,417.3L875.7,411.5L881.5,417.3L875.7,423.1Z"/><path d="M874.6,418.1L880.4,412.3L886.2,418.1L880.4,423.9Z"/><path d="M879.3,419.9L885.1,414.1L890.9,419.9L885.1,425.7Z"/><path d="M884.0,421.3L889.8,415.5L895.6,421.3L889.8,427.1Z"/><path d="M888.7,419.8L894.5,414.0L900.3,419.8L894.5,425.6Z"/><path d="M893.4,416.8L899.2,411.0L905.0,416.8L899.2,422.6Z"/><path d="M898.1,413.6L903.9,407.8L909.7,413.6L903.9,419.4Z"/><path d="M902.8,410.1L908.6,404.3L914.4,410.1L908.6,415.9Z"/><path d="M907.5,408.8L913.3,403.0L919.1,408.8L913.3,414.6Z"/><path d="M912.2,409.8L918.0,404.0L923.8,409.8L918.0,415.6Z"/><path d="M916.9,411.4L922.7,405.6L928.5,411.4L922.7,417.2Z"/><path d="M921.6,414.1L927.4,408.3L933.2,414.1L927.4,419.9Z"/><path d="M926.3,416.7L932.1,410.9L937.9,416.7L932.1,422.5Z"/><path d="M931.0,416.1L936.8,410.3L942.6,416.1L936.8,421.9Z"/><path d="M935.7,412.2L941.5,406.4L947.3,412.2L941.5,418.0Z"/><path d="M940.4,407.7L946.2,401.9L952.0,407.7L946.2,413.5Z"/><path d="M945.0,402.6L950.8,396.8L956.6,402.6L950.8,408.4Z"/><path d="M949.7,398.8L955.5,393.0L961.3,398.8L955.5,404.6Z"/><path d="M954.4,397.0L960.2,391.2L966.0,397.0L960.2,402.8Z"/><path d="M959.1,400.0L964.9,394.2L970.7,400.0L964.9,405.8Z"/><path d="M963.8,405.0L969.6,399.2L975.4,405.0L969.6,410.8Z"/><path d="M968.5,411.7L974.3,405.9L980.1,411.7L974.3,417.5Z"/><path d="M973.2,417.6L979.0,411.8L984.8,417.6L979.0,423.4Z"/><path d="M977.9,413.7L983.7,407.9L989.5,413.7L983.7,419.5Z"/><path d="M982.6,401.9L988.4,396.1L994.2,401.9L988.4,407.7Z"/><path d="M987.3,388.0L993.1,382.2L998.9,388.0L993.1,393.8Z"/><path d="M992.0,371.7L997.8,365.9L1003.6,371.7L997.8,377.5Z"/><path d="M996.7,352.3L1002.5,346.5L1008.3,352.3L1002.5,358.1Z"/><path d="M1001.4,335.7L1007.2,329.9L1013.0,335.7L1007.2,341.5Z"/><path d="M1006.1,326.1L1011.9,320.3L1017.7,326.1L1011.9,331.9Z"/><path d="M1010.8,322.4L1016.6,316.6L1022.4,322.4L1016.6,328.2Z"/><path d="M1015.5,326.6L1021.3,320.8L1027.1,326.6L1021.3,332.4Z"/><path d="M1020.2,333.3L1026.0,327.5L1031.8,333.3L1026.0,339.1Z"/><path d="M1024.9,341.1L1030.7,335.3L1036.5,341.1L1030.7,346.9Z"/><path d="M1029.6,347.2L1035.4,341.4L1041.2,347.2L1035.4,353.0Z"/><path d="M1034.3,340.5L1040.1,334.7L1045.9,340.5L1040.1,346.3Z"/><path d="M1039.0,327.6L1044.8,321.8L1050.6,327.6L1044.8,333.4Z"/><path d="M1043.7,310.3L1049.5,304.5L1055.3,310.3L1049.5,316.1Z"/><path d="M1048.4,286.8L1054.2,281.0L1060.0,286.8L1054.2,292.6Z"/><path d="M1053.1,262.1L1058.9,256.3L1064.7,262.1L1058.9,267.9Z"/><path d="M1057.8,238.3L1063.6,232.5L1069.4,238.3L1063.6,244.1Z"/><path d="M1062.5,219.2L1068.3,213.4L1074.1,219.2L1068.3,225.0Z"/><path d="M1067.2,209.8L1073.0,204.0L1078.8,209.8L1073.0,215.6Z"/><path d="M1071.9,207.7L1077.7,201.9L1083.5,207.7L1077.7,213.5Z"/><path d="M1076.6,211.8L1082.4,206.0L1088.2,211.8L1082.4,217.6Z"/><path d="M1081.3,222.2L1087.1,216.4L1092.9,222.2L1087.1,228.0Z"/><path d="M1086.0,235.3L1091.8,229.5L1097.6,235.3L1091.8,241.1Z"/><path d="M1090.7,250.9L1096.5,245.1L1102.3,250.9L1096.5,256.7Z"/><path d="M1095.4,262.5L1101.2,256.7L1107.0,262.5L1101.2,268.3Z"/><path d="M1100.0,270.4L1105.8,264.6L1111.6,270.4L1105.8,276.2Z"/><path d="M1104.7,276.1L1110.5,270.3L1116.3,276.1L1110.5,281.9Z"/><path d="M1109.4,276.0L1115.2,270.2L1121.0,276.0L1115.2,281.8Z"/><path d="M1114.1,274.1L1119.9,268.3L1125.7,274.1L1119.9,279.9Z"/><path d="M1118.8,271.3L1124.6,265.5L1130.4,271.3L1124.6,277.1Z"/><path d="M1123.5,271.5L1129.3,265.7L1135.1,271.5L1129.3,277.3Z"/><path d="M1128.2,278.2L1134.0,272.4L1139.8,278.2L1134.0,284.0Z"/><path d="M1132.9,286.3L1138.7,280.5L1144.5,286.3L1138.7,292.1Z"/><path d="M1137.6,296.2L1143.4,290.4L1149.2,296.2L1143.4,302.0Z"/><path d="M1142.3,307.9L1148.1,302.1L1153.9,307.9L1148.1,313.7Z"/><path d="M1147.0,321.4L1152.8,315.6L1158.6,321.4L1152.8,327.2Z"/><path d="M1151.7,340.1L1157.5,334.3L1163.3,340.1L1157.5,345.9Z"/><path d="M1156.4,355.5L1162.2,349.7L1168.0,355.5L1162.2,361.3Z"/><path d="M1161.1,364.0L1166.9,358.2L1172.7,364.0L1166.9,369.8Z"/><path d="M1165.8,367.5L1171.6,361.7L1177.4,367.5L1171.6,373.3Z"/><path d="M1170.5,363.8L1176.3,358.0L1182.1,363.8L1176.3,369.6Z"/><path d="M1175.2,357.0L1181.0,351.2L1186.8,357.0L1181.0,362.8Z"/><path d="M1179.9,349.8L1185.7,344.0L1191.5,349.8L1185.7,355.6Z"/><path d="M1184.6,344.4L1190.4,338.6L1196.2,344.4L1190.4,350.2Z"/><path d="M1189.3,340.5L1195.1,334.7L1200.9,340.5L1195.1,346.3Z"/><path d="M1194.0,337.6L1199.8,331.8L1205.6,337.6L1199.8,343.4Z"/><path d="M1198.7,335.7L1204.5,329.9L1210.3,335.7L1204.5,341.5Z"/><path d="M1203.4,336.1L1209.2,330.3L1215.0,336.1L1209.2,341.9Z"/><path d="M1208.1,338.8L1213.9,333.0L1219.7,338.8L1213.9,344.6Z"/><path d="M1212.8,342.3L1218.6,336.5L1224.4,342.3L1218.6,348.1Z"/><path d="M1217.5,347.9L1223.3,342.1L1229.1,347.9L1223.3,353.7Z"/><path d="M1222.2,354.9L1228.0,349.1L1233.8,354.9L1228.0,360.7Z"/><path d="M1226.9,364.0L1232.7,358.2L1238.5,364.0L1232.7,369.8Z"/><path d="M1231.6,373.5L1237.4,367.7L1243.2,373.5L1237.4,379.3Z"/><path d="M1236.3,381.9L1242.1,376.1L1247.9,381.9L1242.1,387.7Z"/><path d="M1241.0,389.9L1246.8,384.1L1252.6,389.9L1246.8,395.7Z"/><path d="M1245.7,397.4L1251.5,391.6L1257.3,397.4L1251.5,403.2Z"/><path d="M1250.4,404.2L1256.2,398.4L1262.0,404.2L1256.2,410.0Z"/><path d="M1255.1,410.1L1260.9,404.3L1266.7,410.1L1260.9,415.9Z"/><path d="M1259.7,415.2L1265.5,409.4L1271.3,415.2L1265.5,421.0Z"/><path d="M1264.4,419.9L1270.2,414.1L1276.0,419.9L1270.2,425.7Z"/><path d="M1269.1,423.0L1274.9,417.2L1280.7,423.0L1274.9,428.8Z"/><path d="M1273.8,421.3L1279.6,415.5L1285.4,421.3L1279.6,427.1Z"/><path d="M1278.5,415.2L1284.3,409.4L1290.1,415.2L1284.3,421.0Z"/><path d="M1283.2,399.3L1289.0,393.5L1294.8,399.3L1289.0,405.1Z"/><path d="M1287.9,383.1L1293.7,377.3L1299.5,383.1L1293.7,388.9Z"/><path d="M1292.6,367.8L1298.4,362.0L1304.2,367.8L1298.4,373.6Z"/><path d="M1297.3,350.4L1303.1,344.6L1308.9,350.4L1303.1,356.2Z"/><path d="M1302.0,329.5L1307.8,323.7L1313.6,329.5L1307.8,335.3Z"/><path d="M1306.7,315.0L1312.5,309.2L1318.3,315.0L1312.5,320.8Z"/><path d="M1311.4,306.9L1317.2,301.1L1323.0,306.9L1317.2,312.7Z"/><path d="M1316.1,304.0L1321.9,298.2L1327.7,304.0L1321.9,309.8Z"/><path d="M1320.8,306.2L1326.6,300.4L1332.4,306.2L1326.6,312.0Z"/><path d="M1325.5,312.2L1331.3,306.4L1337.1,312.2L1331.3,318.0Z"/><path d="M1330.2,322.6L1336.0,316.8L1341.8,322.6L1336.0,328.4Z"/><path d="M1334.9,341.2L1340.7,335.4L1346.5,341.2L1340.7,347.0Z"/><path d="M1339.6,358.7L1345.4,352.9L1351.2,358.7L1345.4,364.5Z"/><path d="M1344.3,383.0L1350.1,377.2L1355.9,383.0L1350.1,388.8Z"/><path d="M1349.0,403.1L1354.8,397.3L1360.6,403.1L1354.8,408.9Z"/><path d="M1353.7,413.7L1359.5,407.9L1365.3,413.7L1359.5,419.5Z"/><path d="M1358.4,419.8L1364.2,414.0L1370.0,419.8L1364.2,425.6Z"/><path d="M1363.1,417.3L1368.9,411.5L1374.7,417.3L1368.9,423.1Z"/><path d="M1367.8,413.1L1373.6,407.3L1379.4,413.1L1373.6,418.9Z"/><path d="M1372.5,410.0L1378.3,404.2L1384.1,410.0L1378.3,415.8Z"/><path d="M1377.2,412.7L1383.0,406.9L1388.8,412.7L1383.0,418.5Z"/><path d="M1381.9,419.9L1387.7,414.1L1393.5,419.9L1387.7,425.7Z"/><path d="M1386.6,430.1L1392.4,424.3L1398.2,430.1L1392.4,435.9Z"/><path d="M1391.3,438.5L1397.1,432.7L1402.9,438.5L1397.1,444.3Z"/><path d="M1396.0,441.8L1401.8,436.0L1407.6,441.8L1401.8,447.6Z"/><path d="M1400.7,430.9L1406.5,425.1L1412.3,430.9L1406.5,436.7Z"/><path d="M1405.4,415.4L1411.2,409.6L1417.0,415.4L1411.2,421.2Z"/><path d="M1410.1,402.3L1415.9,396.5L1421.7,402.3L1415.9,408.1Z"/><path d="M1414.7,392.6L1420.5,386.8L1426.3,392.6L1420.5,398.4Z"/><path d="M1419.4,389.4L1425.2,383.6L1431.0,389.4L1425.2,395.2Z"/><path d="M1424.1,389.3L1429.9,383.5L1435.7,389.3L1429.9,395.1Z"/><path d="M1428.8,396.9L1434.6,391.1L1440.4,396.9L1434.6,402.7Z"/><path d="M1433.5,406.0L1439.3,400.2L1445.1,406.0L1439.3,411.8Z"/><path d="M1438.2,415.7L1444.0,409.9L1449.8,415.7L1444.0,421.5Z"/><path d="M1442.9,422.4L1448.7,416.6L1454.5,422.4L1448.7,428.2Z"/><path d="M1447.6,425.0L1453.4,419.2L1459.2,425.0L1453.4,430.8Z"/><path d="M1452.3,422.1L1458.1,416.3L1463.9,422.1L1458.1,427.9Z"/><path d="M1457.0,415.0L1462.8,409.2L1468.6,415.0L1462.8,420.8Z"/><path d="M1461.7,405.3L1467.5,399.5L1473.3,405.3L1467.5,411.1Z"/><path d="M1466.4,397.8L1472.2,392.0L1478.0,397.8L1472.2,403.6Z"/><path d="M1471.1,393.9L1476.9,388.1L1482.7,393.9L1476.9,399.7Z"/><path d="M1475.8,395.5L1481.6,389.7L1487.4,395.5L1481.6,401.3Z"/></g>
<polyline fill="none" stroke="#0c0c8c" stroke-width="3.5" stroke-linejoin="round" points="871.0,441.5 875.7,439.2 880.4,437.4 885.1,435.5 889.8,434.5 894.5,435.8 899.2,438.4 903.9,441.5 908.6,443.8 913.3,440.2 918.0,433.8 922.7,429.6 927.4,426.5 932.1,426.8 936.8,428.8 941.5,433.4 946.2,441.2 950.8,444.8 955.5,435.4 960.2,422.0 964.9,410.1 969.6,399.6 974.3,390.3 979.0,381.2 983.7,372.1 988.4,362.9 993.1,351.8 997.8,333.7 1002.5,312.4 1007.2,286.9 1011.9,261.6 1016.6,242.4 1021.3,228.0 1026.0,216.2 1030.7,211.3 1035.4,215.3 1040.1,225.2 1044.8,238.3 1049.5,250.4 1054.2,257.5 1058.9,252.4 1063.6,234.9 1068.3,201.7 1073.0,163.3 1077.7,128.0 1082.4,91.1 1087.1,63.8 1091.8,45.9 1096.5,38.8 1101.2,39.1 1105.8,49.9 1110.5,74.2 1115.2,101.0 1119.9,133.3 1124.6,174.1 1129.3,210.3 1134.0,248.6 1138.7,286.6 1143.4,330.5 1148.1,364.2 1152.8,393.2 1157.5,418.9 1162.2,444.3 1166.9,435.3 1171.6,411.1 1176.3,392.0 1181.0,373.8 1185.7,356.1 1190.4,341.4 1195.1,330.9 1199.8,325.7 1204.5,322.2 1209.2,322.6 1213.9,325.0 1218.6,327.8 1223.3,333.4 1228.0,341.8 1232.7,349.2 1237.4,359.3 1242.1,366.7 1246.8,374.2 1251.5,381.8 1256.2,388.9 1260.9,395.4 1265.5,401.7 1270.2,404.4 1274.9,401.8 1279.6,392.3 1284.3,376.9 1289.0,360.2 1293.7,346.1 1298.4,329.8 1303.1,315.3 1307.8,302.5 1312.5,291.9 1317.2,282.9 1321.9,272.9 1326.6,262.2 1331.3,257.6 1336.0,254.4 1340.7,252.5 1345.4,253.2 1350.1,255.1 1354.8,259.5 1359.5,267.9 1364.2,282.6 1368.9,300.6 1373.6,320.9 1378.3,347.9 1383.0,371.2 1387.7,395.8 1392.4,419.7 1397.1,427.4 1401.8,410.3 1406.5,397.2 1411.2,388.6 1415.9,383.1 1420.5,380.1 1425.2,382.1 1429.9,390.0 1434.6,402.8 1439.3,415.2 1444.0,427.3 1448.7,431.8 1453.4,422.9 1458.1,408.8 1462.8,392.0 1467.5,379.4 1472.2,371.3 1476.9,365.7 1481.6,362.3"/>
<g fill="#0c0c8c"><circle cx="871.0" cy="441.5" r="4.35"/><circle cx="875.7" cy="439.2" r="4.35"/><circle cx="880.4" cy="437.4" r="4.35"/><circle cx="885.1" cy="435.5" r="4.35"/><circle cx="889.8" cy="434.5" r="4.35"/><circle cx="894.5" cy="435.8" r="4.35"/><circle cx="899.2" cy="438.4" r="4.35"/><circle cx="903.9" cy="441.5" r="4.35"/><circle cx="908.6" cy="443.8" r="4.35"/><circle cx="913.3" cy="440.2" r="4.35"/><circle cx="918.0" cy="433.8" r="4.35"/><circle cx="922.7" cy="429.6" r="4.35"/><circle cx="927.4" cy="426.5" r="4.35"/><circle cx="932.1" cy="426.8" r="4.35"/><circle cx="936.8" cy="428.8" r="4.35"/><circle cx="941.5" cy="433.4" r="4.35"/><circle cx="946.2" cy="441.2" r="4.35"/><circle cx="950.8" cy="444.8" r="4.35"/><circle cx="955.5" cy="435.4" r="4.35"/><circle cx="960.2" cy="422.0" r="4.35"/><circle cx="964.9" cy="410.1" r="4.35"/><circle cx="969.6" cy="399.6" r="4.35"/><circle cx="974.3" cy="390.3" r="4.35"/><circle cx="979.0" cy="381.2" r="4.35"/><circle cx="983.7" cy="372.1" r="4.35"/><circle cx="988.4" cy="362.9" r="4.35"/><circle cx="993.1" cy="351.8" r="4.35"/><circle cx="997.8" cy="333.7" r="4.35"/><circle cx="1002.5" cy="312.4" r="4.35"/><circle cx="1007.2" cy="286.9" r="4.35"/><circle cx="1011.9" cy="261.6" r="4.35"/><circle cx="1016.6" cy="242.4" r="4.35"/><circle cx="1021.3" cy="228.0" r="4.35"/><circle cx="1026.0" cy="216.2" r="4.35"/><circle cx="1030.7" cy="211.3" r="4.35"/><circle cx="1035.4" cy="215.3" r="4.35"/><circle cx="1040.1" cy="225.2" r="4.35"/><circle cx="1044.8" cy="238.3" r="4.35"/><circle cx="1049.5" cy="250.4" r="4.35"/><circle cx="1054.2" cy="257.5" r="4.35"/><circle cx="1058.9" cy="252.4" r="4.35"/><circle cx="1063.6" cy="234.9" r="4.35"/><circle cx="1068.3" cy="201.7" r="4.35"/><circle cx="1073.0" cy="163.3" r="4.35"/><circle cx="1077.7" cy="128.0" r="4.35"/><circle cx="1082.4" cy="91.1" r="4.35"/><circle cx="1087.1" cy="63.8" r="4.35"/><circle cx="1091.8" cy="45.9" r="4.35"/><circle cx="1096.5" cy="38.8" r="4.35"/><circle cx="1101.2" cy="39.1" r="4.35"/><circle cx="1105.8" cy="49.9" r="4.35"/><circle cx="1110.5" cy="74.2" r="4.35"/><circle cx="1115.2" cy="101.0" r="4.35"/><circle cx="1119.9" cy="133.3" r="4.35"/><circle cx="1124.6" cy="174.1" r="4.35"/><circle cx="1129.3" cy="210.3" r="4.35"/><circle cx="1134.0" cy="248.6" r="4.35"/><circle cx="1138.7" cy="286.6" r="4.35"/><circle cx="1143.4" cy="330.5" r="4.35"/><circle cx="1148.1" cy="364.2" r="4.35"/><circle cx="1152.8" cy="393.2" r="4.35"/><circle cx="1157.5" cy="418.9" r="4.35"/><circle cx="1162.2" cy="444.3" r="4.35"/><circle cx="1166.9" cy="435.3" r="4.35"/><circle cx="1171.6" cy="411.1" r="4.35"/><circle cx="1176.3" cy="392.0" r="4.35"/><circle cx="1181.0" cy="373.8" r="4.35"/><circle cx="1185.7" cy="356.1" r="4.35"/><circle cx="1190.4" cy="341.4" r="4.35"/><circle cx="1195.1" cy="330.9" r="4.35"/><circle cx="1199.8" cy="325.7" r="4.35"/><circle cx="1204.5" cy="322.2" r="4.35"/><circle cx="1209.2" cy="322.6" r="4.35"/><circle cx="1213.9" cy="325.0" r="4.35"/><circle cx="1218.6" cy="327.8" r="4.35"/><circle cx="1223.3" cy="333.4" r="4.35"/><circle cx="1228.0" cy="341.8" r="4.35"/><circle cx="1232.7" cy="349.2" r="4.35"/><circle cx="1237.4" cy="359.3" r="4.35"/><circle cx="1242.1" cy="366.7" r="4.35"/><circle cx="1246.8" cy="374.2" r="4.35"/><circle cx="1251.5" cy="381.8" r="4.35"/><circle cx="1256.2" cy="388.9" r="4.35"/><circle cx="1260.9" cy="395.4" r="4.35"/><circle cx="1265.5" cy="401.7" r="4.35"/><circle cx="1270.2" cy="404.4" r="4.35"/><circle cx="1274.9" cy="401.8" r="4.35"/><circle cx="1279.6" cy="392.3" r="4.35"/><circle cx="1284.3" cy="376.9" r="4.35"/><circle cx="1289.0" cy="360.2" r="4.35"/><circle cx="1293.7" cy="346.1" r="4.35"/><circle cx="1298.4" cy="329.8" r="4.35"/><circle cx="1303.1" cy="315.3" r="4.35"/><circle cx="1307.8" cy="302.5" r="4.35"/><circle cx="1312.5" cy="291.9" r="4.35"/><circle cx="1317.2" cy="282.9" r="4.35"/><circle cx="1321.9" cy="272.9" r="4.35"/><circle cx="1326.6" cy="262.2" r="4.35"/><circle cx="1331.3" cy="257.6" r="4.35"/><circle cx="1336.0" cy="254.4" r="4.35"/><circle cx="1340.7" cy="252.5" r="4.35"/><circle cx="1345.4" cy="253.2" r="4.35"/><circle cx="1350.1" cy="255.1" r="4.35"/><circle cx="1354.8" cy="259.5" r="4.35"/><circle cx="1359.5" cy="267.9" r="4.35"/><circle cx="1364.2" cy="282.6" r="4.35"/><circle cx="1368.9" cy="300.6" r="4.35"/><circle cx="1373.6" cy="320.9" r="4.35"/><circle cx="1378.3" cy="347.9" r="4.35"/><circle cx="1383.0" cy="371.2" r="4.35"/><circle cx="1387.7" cy="395.8" r="4.35"/><circle cx="1392.4" cy="419.7" r="4.35"/><circle cx="1397.1" cy="427.4" r="4.35"/><circle cx="1401.8" cy="410.3" r="4.35"/><circle cx="1406.5" cy="397.2" r="4.35"/><circle cx="1411.2" cy="388.6" r="4.35"/><circle cx="1415.9" cy="383.1" r="4.35"/><circle cx="1420.5" cy="380.1" r="4.35"/><circle cx="1425.2" cy="382.1" r="4.35"/><circle cx="1429.9" cy="390.0" r="4.35"/><circle cx="1434.6" cy="402.8" r="4.35"/><circle cx="1439.3" cy="415.2" r="4.35"/><circle cx="1444.0" cy="427.3" r="4.35"/><circle cx="1448.7" cy="431.8" r="4.35"/><circle cx="1453.4" cy="422.9" r="4.35"/><circle cx="1458.1" cy="408.8" r="4.35"/><circle cx="1462.8" cy="392.0" r="4.35"/><circle cx="1467.5" cy="379.4" r="4.35"/><circle cx="1472.2" cy="371.3" r="4.35"/><circle cx="1476.9" cy="365.7" r="4.35"/><circle cx="1481.6" cy="362.3" r="4.35"/></g>
<line x1="1109.5" y1="45" x2="1171" y2="42.5" stroke="#000" stroke-width="2.5"/>
<circle cx="1109.5" cy="45" r="3.2" fill="#000"/>
<text x="1176" y="50.8" font-size="27" fill="#111" stroke="#111" stroke-width="0.45">V-O Overlap</text>
<line x1="1083.6" y1="207.4" x2="1168" y2="167" stroke="#000" stroke-width="2.5"/>
<circle cx="1083.6" cy="207.4" r="3.2" fill="#000"/>
<line x1="1128.3" y1="269.4" x2="1168" y2="168.5" stroke="#000" stroke-width="2.5"/>
<circle cx="1128.3" cy="269.4" r="3.2" fill="#000"/>
<text x="1170" y="172" font-size="27" fill="#111" stroke="#111" stroke-width="0.45">V-O Split</text>
<line x1="1208" y1="234.5" x2="1208" y2="314.3" stroke="#000" stroke-width="2.5"/>
<circle cx="1208" cy="314.3" r="3.2" fill="#000"/>
<text x="1198.8" y="228" font-size="27" fill="#111" stroke="#111" stroke-width="0.45">V-V1 Static</text>
<line x1="1368.8" y1="203.8" x2="1357" y2="251.3" stroke="#000" stroke-width="2.5"/>
<circle cx="1357" cy="251.3" r="3.2" fill="#000"/>
<text x="1361" y="198" font-size="27" fill="#111" stroke="#111" stroke-width="0.45">V-V3 Shift</text>
<line x1="1327" y1="68" x2="1390.5" y2="68" stroke="#1a8c1a" stroke-width="3.5"/>
<path d="M1353,68L1358,63L1363,68L1358,73Z" fill="#1a8c1a"/>
<text x="1405" y="77.5" font-size="27" fill="#111" stroke="#111" stroke-width="0.45">1.0%</text>
<line x1="1327" y1="101.3" x2="1390.5" y2="101.3" stroke="#0c0c8c" stroke-width="3.5"/>
<circle cx="1358" cy="101.3" r="4" fill="#0c0c8c"/>
<text x="1405" y="110.8" font-size="27" fill="#111" stroke="#111" stroke-width="0.45">1.9%</text>
</g>
</svg></body></html>
